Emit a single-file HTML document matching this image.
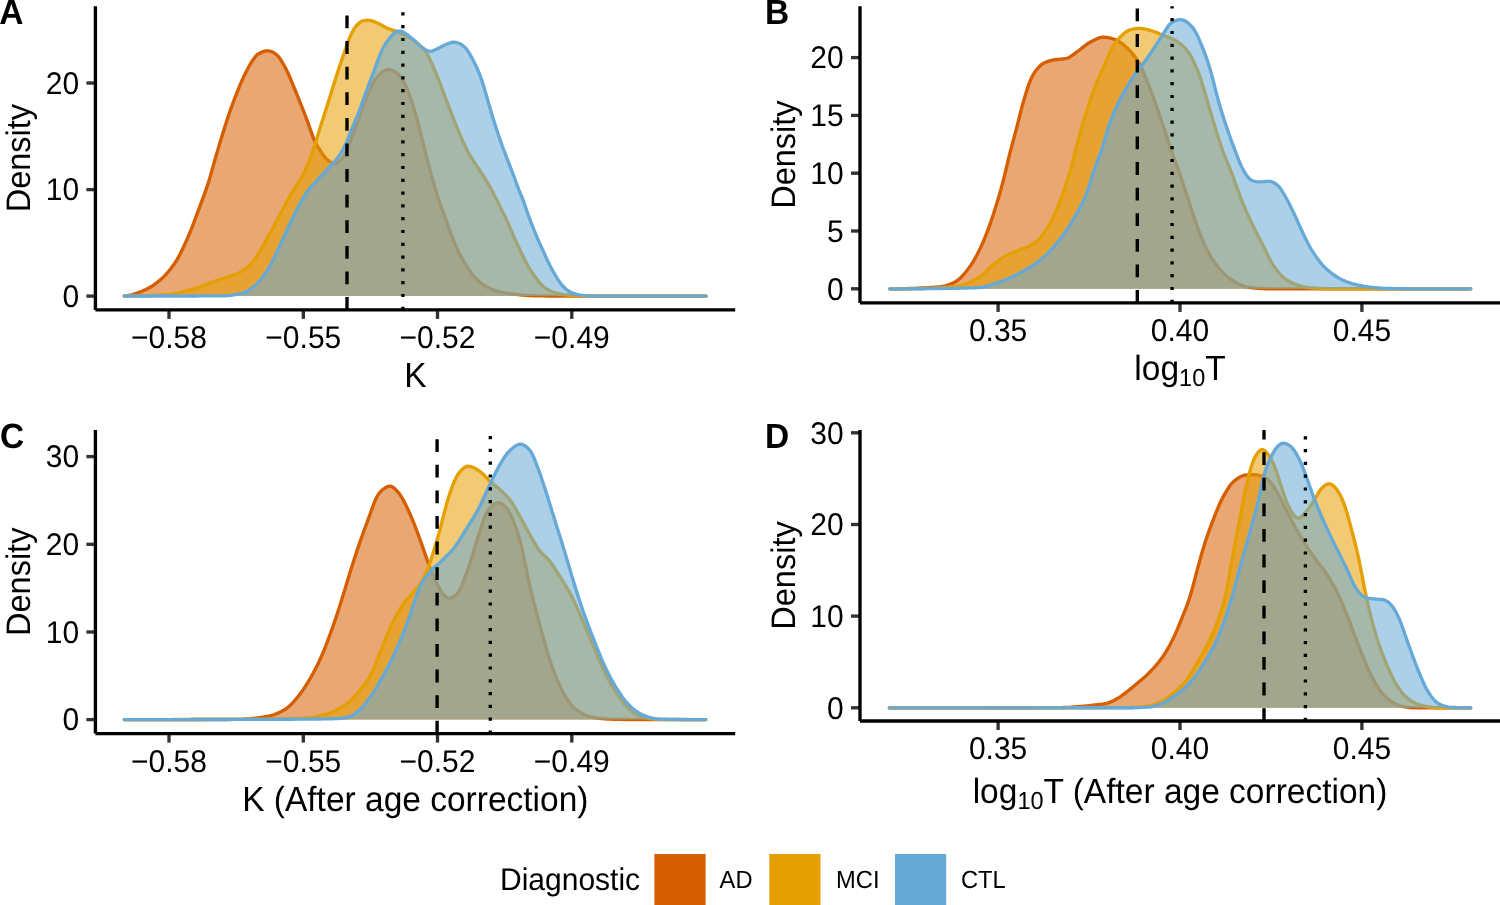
<!DOCTYPE html>
<html><head><meta charset="utf-8"><title>Density plots</title><style>
html,body{margin:0;padding:0;background:#fff;}
body{width:1500px;height:905px;overflow:hidden;}
svg{display:block;will-change:transform;}
text{font-family:"Liberation Sans",sans-serif;fill:#000;text-rendering:geometricPrecision;-webkit-font-smoothing:antialiased;}
.tk{font-size:30px;}
.tt{font-size:33.5px;}
.sub{font-size:23.5px;}
.ty{font-size:32.5px;}
.tag{font-size:33.5px;font-weight:bold;}
.lt{font-size:30px;}
.ll{font-size:23.7px;}
</style></head><body>
<svg width="1500" height="905" viewBox="0 0 1500 905">
<rect width="1500" height="905" fill="#fff"/>
<g>
<path d="M124.3,296.0 125.8,295.9 127.3,295.8 128.8,295.5 130.3,295.2 131.8,294.9 133.3,294.4 134.8,293.9 136.3,293.4 137.8,292.9 139.3,292.3 140.8,291.7 142.3,291.1 143.8,290.4 145.3,289.8 146.8,289.1 148.3,288.3 149.8,287.5 151.3,286.5 152.8,285.6 154.3,284.5 155.8,283.4 157.3,282.3 158.8,281.1 160.3,279.9 161.8,278.5 163.3,277.1 164.8,275.6 166.3,274.0 167.8,272.3 169.3,270.5 170.8,268.6 172.3,266.6 173.8,264.5 175.3,262.3 176.8,259.9 178.3,257.3 179.8,254.6 181.3,251.6 182.8,248.5 184.3,245.3 185.8,242.0 187.3,238.7 188.8,235.2 190.3,231.6 191.8,227.8 193.3,224.0 194.8,220.0 196.3,215.9 197.8,211.8 199.3,207.8 200.8,203.8 202.3,199.8 203.8,195.8 205.3,191.7 206.8,187.4 208.3,182.9 209.8,178.0 211.3,172.8 212.8,167.4 214.3,162.0 215.8,156.8 217.3,151.7 218.8,146.6 220.3,141.6 221.8,136.7 223.3,131.7 224.8,126.9 226.3,122.2 227.8,117.6 229.3,113.2 230.8,108.9 232.3,104.8 233.8,100.8 235.3,96.9 236.8,93.1 238.3,89.3 239.8,85.7 241.3,82.2 242.8,78.7 244.3,75.5 245.8,72.4 247.3,69.5 248.8,66.7 250.3,64.2 251.8,61.7 253.3,59.4 254.8,57.4 256.3,55.6 257.8,54.3 259.3,53.4 260.8,52.6 262.3,51.9 263.8,51.4 265.3,51.0 266.8,50.8 268.3,50.9 269.8,51.2 271.3,51.6 272.8,52.3 274.3,53.1 275.8,54.1 277.3,55.3 278.8,57.0 280.3,59.1 281.8,61.5 283.3,64.0 284.8,66.7 286.3,69.6 287.8,72.7 289.3,76.0 290.8,79.5 292.3,83.1 293.8,86.8 295.3,90.5 296.8,94.2 298.3,97.9 299.8,101.6 301.3,105.4 302.8,109.1 304.3,113.0 305.8,116.9 307.3,120.9 308.8,125.1 310.3,129.4 311.8,133.7 313.3,137.7 314.8,141.2 316.3,144.2 317.8,146.7 319.3,149.0 320.8,151.3 322.3,153.6 323.8,155.8 325.3,157.7 326.8,159.3 328.3,160.5 329.8,161.5 331.3,162.4 332.8,163.0 334.3,163.2 335.8,163.2 337.3,162.6 338.8,161.8 340.3,160.5 341.8,159.0 343.3,157.1 344.8,154.6 346.3,151.3 347.8,147.6 349.3,143.7 350.8,139.8 352.3,135.9 353.8,131.9 355.3,127.9 356.8,123.8 358.3,119.7 359.8,115.6 361.3,111.5 362.8,107.3 364.3,103.2 365.8,99.3 367.3,95.6 368.8,92.1 370.3,88.9 371.8,85.7 373.3,82.9 374.8,80.3 376.3,78.1 377.8,76.3 379.3,74.8 380.8,73.4 382.3,72.2 383.8,71.1 385.3,70.3 386.8,69.7 388.3,69.5 389.8,69.6 391.3,70.0 392.8,70.6 394.3,71.3 395.8,72.3 397.3,73.4 398.8,74.9 400.3,76.7 401.8,78.8 403.3,81.2 404.8,83.9 406.3,87.0 407.8,90.5 409.3,94.5 410.8,98.8 412.3,103.3 413.8,108.1 415.3,113.3 416.8,118.7 418.3,124.4 419.8,130.2 421.3,136.0 422.8,141.9 424.3,147.8 425.8,153.7 427.3,159.6 428.8,165.4 430.3,171.1 431.8,176.6 433.3,182.0 434.8,187.1 436.3,192.1 437.8,196.8 439.3,201.4 440.8,205.8 442.3,210.0 443.8,214.1 445.3,218.2 446.8,222.3 448.3,226.4 449.8,230.7 451.3,234.8 452.8,238.8 454.3,242.6 455.8,246.0 457.3,249.2 458.8,252.3 460.3,255.2 461.8,257.9 463.3,260.6 464.8,263.1 466.3,265.6 467.8,268.0 469.3,270.3 470.8,272.4 472.3,274.4 473.8,276.1 475.3,277.8 476.8,279.3 478.3,280.8 479.8,282.1 481.3,283.4 482.8,284.5 484.3,285.5 485.8,286.4 487.3,287.2 488.8,288.0 490.3,288.6 491.8,289.3 493.3,289.8 494.8,290.4 496.3,290.9 497.8,291.3 499.3,291.7 500.8,292.0 502.3,292.4 503.8,292.6 505.3,292.9 506.8,293.1 508.3,293.4 509.8,293.6 511.3,293.8 512.8,294.0 514.3,294.2 515.8,294.3 517.3,294.5 518.8,294.7 520.3,294.9 521.8,295.0 523.3,295.2 524.8,295.3 526.3,295.4 527.8,295.5 529.3,295.6 530.8,295.6 532.3,295.7 533.8,295.7 535.3,295.7 536.8,295.8 538.3,295.8 539.8,295.9 541.3,295.9 542.8,295.9 544.3,295.9 545.8,296.0 547.3,296.0 548.8,296.0 550.3,296.0 551.8,296.1 553.3,296.1 554.8,296.1 706.0,296.1L706.1,296.1L124.3,296.1Z" fill="#D55E00" fill-opacity="0.55" stroke="none"/>
<path d="M124.3,296.0 125.8,295.9 127.3,295.8 128.8,295.5 130.3,295.2 131.8,294.9 133.3,294.4 134.8,293.9 136.3,293.4 137.8,292.9 139.3,292.3 140.8,291.7 142.3,291.1 143.8,290.4 145.3,289.8 146.8,289.1 148.3,288.3 149.8,287.5 151.3,286.5 152.8,285.6 154.3,284.5 155.8,283.4 157.3,282.3 158.8,281.1 160.3,279.9 161.8,278.5 163.3,277.1 164.8,275.6 166.3,274.0 167.8,272.3 169.3,270.5 170.8,268.6 172.3,266.6 173.8,264.5 175.3,262.3 176.8,259.9 178.3,257.3 179.8,254.6 181.3,251.6 182.8,248.5 184.3,245.3 185.8,242.0 187.3,238.7 188.8,235.2 190.3,231.6 191.8,227.8 193.3,224.0 194.8,220.0 196.3,215.9 197.8,211.8 199.3,207.8 200.8,203.8 202.3,199.8 203.8,195.8 205.3,191.7 206.8,187.4 208.3,182.9 209.8,178.0 211.3,172.8 212.8,167.4 214.3,162.0 215.8,156.8 217.3,151.7 218.8,146.6 220.3,141.6 221.8,136.7 223.3,131.7 224.8,126.9 226.3,122.2 227.8,117.6 229.3,113.2 230.8,108.9 232.3,104.8 233.8,100.8 235.3,96.9 236.8,93.1 238.3,89.3 239.8,85.7 241.3,82.2 242.8,78.7 244.3,75.5 245.8,72.4 247.3,69.5 248.8,66.7 250.3,64.2 251.8,61.7 253.3,59.4 254.8,57.4 256.3,55.6 257.8,54.3 259.3,53.4 260.8,52.6 262.3,51.9 263.8,51.4 265.3,51.0 266.8,50.8 268.3,50.9 269.8,51.2 271.3,51.6 272.8,52.3 274.3,53.1 275.8,54.1 277.3,55.3 278.8,57.0 280.3,59.1 281.8,61.5 283.3,64.0 284.8,66.7 286.3,69.6 287.8,72.7 289.3,76.0 290.8,79.5 292.3,83.1 293.8,86.8 295.3,90.5 296.8,94.2 298.3,97.9 299.8,101.6 301.3,105.4 302.8,109.1 304.3,113.0 305.8,116.9 307.3,120.9 308.8,125.1 310.3,129.4 311.8,133.7 313.3,137.7 314.8,141.2 316.3,144.2 317.8,146.7 319.3,149.0 320.8,151.3 322.3,153.6 323.8,155.8 325.3,157.7 326.8,159.3 328.3,160.5 329.8,161.5 331.3,162.4 332.8,163.0 334.3,163.2 335.8,163.2 337.3,162.6 338.8,161.8 340.3,160.5 341.8,159.0 343.3,157.1 344.8,154.6 346.3,151.3 347.8,147.6 349.3,143.7 350.8,139.8 352.3,135.9 353.8,131.9 355.3,127.9 356.8,123.8 358.3,119.7 359.8,115.6 361.3,111.5 362.8,107.3 364.3,103.2 365.8,99.3 367.3,95.6 368.8,92.1 370.3,88.9 371.8,85.7 373.3,82.9 374.8,80.3 376.3,78.1 377.8,76.3 379.3,74.8 380.8,73.4 382.3,72.2 383.8,71.1 385.3,70.3 386.8,69.7 388.3,69.5 389.8,69.6 391.3,70.0 392.8,70.6 394.3,71.3 395.8,72.3 397.3,73.4 398.8,74.9 400.3,76.7 401.8,78.8 403.3,81.2 404.8,83.9 406.3,87.0 407.8,90.5 409.3,94.5 410.8,98.8 412.3,103.3 413.8,108.1 415.3,113.3 416.8,118.7 418.3,124.4 419.8,130.2 421.3,136.0 422.8,141.9 424.3,147.8 425.8,153.7 427.3,159.6 428.8,165.4 430.3,171.1 431.8,176.6 433.3,182.0 434.8,187.1 436.3,192.1 437.8,196.8 439.3,201.4 440.8,205.8 442.3,210.0 443.8,214.1 445.3,218.2 446.8,222.3 448.3,226.4 449.8,230.7 451.3,234.8 452.8,238.8 454.3,242.6 455.8,246.0 457.3,249.2 458.8,252.3 460.3,255.2 461.8,257.9 463.3,260.6 464.8,263.1 466.3,265.6 467.8,268.0 469.3,270.3 470.8,272.4 472.3,274.4 473.8,276.1 475.3,277.8 476.8,279.3 478.3,280.8 479.8,282.1 481.3,283.4 482.8,284.5 484.3,285.5 485.8,286.4 487.3,287.2 488.8,288.0 490.3,288.6 491.8,289.3 493.3,289.8 494.8,290.4 496.3,290.9 497.8,291.3 499.3,291.7 500.8,292.0 502.3,292.4 503.8,292.6 505.3,292.9 506.8,293.1 508.3,293.4 509.8,293.6 511.3,293.8 512.8,294.0 514.3,294.2 515.8,294.3 517.3,294.5 518.8,294.7 520.3,294.9 521.8,295.0 523.3,295.2 524.8,295.3 526.3,295.4 527.8,295.5 529.3,295.6 530.8,295.6 532.3,295.7 533.8,295.7 535.3,295.7 536.8,295.8 538.3,295.8 539.8,295.9 541.3,295.9 542.8,295.9 544.3,295.9 545.8,296.0 547.3,296.0 548.8,296.0 550.3,296.0 551.8,296.1 553.3,296.1 554.8,296.1 706.0,296.1" fill="none" stroke="#D55E00" stroke-width="3.35" stroke-linejoin="round" stroke-linecap="round"/>
<path d="M124.3,296.0 125.8,296.0 127.3,296.0 128.8,296.0 130.3,296.0 131.8,296.0 133.3,295.9 134.8,295.9 136.3,295.9 137.8,295.9 139.3,295.8 140.8,295.8 142.3,295.8 143.8,295.7 145.3,295.7 146.8,295.6 148.3,295.6 149.8,295.5 151.3,295.5 152.8,295.4 154.3,295.4 155.8,295.3 157.3,295.2 158.8,295.2 160.3,295.1 161.8,295.0 163.3,295.0 164.8,294.9 166.3,294.8 167.8,294.7 169.3,294.5 170.8,294.4 172.3,294.1 173.8,293.9 175.3,293.6 176.8,293.3 178.3,293.0 179.8,292.6 181.3,292.3 182.8,291.9 184.3,291.5 185.8,291.1 187.3,290.7 188.8,290.3 190.3,289.9 191.8,289.5 193.3,289.1 194.8,288.6 196.3,288.2 197.8,287.7 199.3,287.1 200.8,286.6 202.3,286.0 203.8,285.5 205.3,284.9 206.8,284.3 208.3,283.7 209.8,283.1 211.3,282.5 212.8,282.0 214.3,281.4 215.8,280.9 217.3,280.3 218.8,279.8 220.3,279.4 221.8,278.9 223.3,278.5 224.8,278.0 226.3,277.6 227.8,277.1 229.3,276.7 230.8,276.2 232.3,275.7 233.8,275.1 235.3,274.5 236.8,273.9 238.3,273.2 239.8,272.4 241.3,271.5 242.8,270.6 244.3,269.7 245.8,268.6 247.3,267.4 248.8,266.2 250.3,264.8 251.8,263.2 253.3,261.4 254.8,259.3 256.3,257.0 257.8,254.6 259.3,252.1 260.8,249.6 262.3,247.0 263.8,244.5 265.3,241.9 266.8,239.3 268.3,236.6 269.8,233.8 271.3,231.0 272.8,228.2 274.3,225.4 275.8,222.6 277.3,219.8 278.8,217.0 280.3,214.2 281.8,211.3 283.3,208.5 284.8,205.6 286.3,202.8 287.8,200.1 289.3,197.3 290.8,194.7 292.3,192.1 293.8,189.6 295.3,187.2 296.8,185.0 298.3,182.7 299.8,180.3 301.3,177.8 302.8,175.1 304.3,172.1 305.8,168.9 307.3,165.5 308.8,161.8 310.3,157.9 311.8,153.9 313.3,149.6 314.8,145.1 316.3,140.2 317.8,135.3 319.3,130.3 320.8,125.5 322.3,120.8 323.8,116.2 325.3,111.6 326.8,106.9 328.3,102.1 329.8,97.3 331.3,92.4 332.8,87.5 334.3,82.7 335.8,77.9 337.3,73.2 338.8,68.6 340.3,64.2 341.8,59.8 343.3,55.5 344.8,51.2 346.3,46.8 347.8,42.5 349.3,38.6 350.8,35.2 352.3,32.0 353.8,29.3 355.3,27.1 356.8,25.2 358.3,23.7 359.8,22.4 361.3,21.5 362.8,20.9 364.3,20.5 365.8,20.3 367.3,20.2 368.8,20.3 370.3,20.5 371.8,20.9 373.3,21.3 374.8,21.8 376.3,22.5 377.8,23.2 379.3,24.0 380.8,24.8 382.3,25.6 383.8,26.4 385.3,27.2 386.8,28.0 388.3,28.7 389.8,29.2 391.3,29.7 392.8,30.1 394.3,30.5 395.8,30.9 397.3,31.6 398.8,32.3 400.3,33.1 401.8,33.9 403.3,34.6 404.8,35.3 406.3,36.0 407.8,36.8 409.3,37.6 410.8,38.4 412.3,39.4 413.8,40.4 415.3,41.5 416.8,42.6 418.3,43.9 419.8,45.3 421.3,46.7 422.8,48.3 424.3,50.1 425.8,52.2 427.3,54.5 428.8,57.1 430.3,60.2 431.8,63.4 433.3,66.9 434.8,70.5 436.3,74.2 437.8,77.8 439.3,81.6 440.8,85.4 442.3,89.3 443.8,93.3 445.3,97.4 446.8,101.4 448.3,105.3 449.8,109.2 451.3,113.1 452.8,117.0 454.3,120.8 455.8,124.6 457.3,128.4 458.8,132.0 460.3,135.5 461.8,138.9 463.3,142.2 464.8,145.4 466.3,148.6 467.8,151.6 469.3,154.4 470.8,157.0 472.3,159.4 473.8,161.7 475.3,163.9 476.8,166.1 478.3,168.3 479.8,170.5 481.3,172.7 482.8,175.1 484.3,177.4 485.8,179.8 487.3,182.2 488.8,184.8 490.3,187.4 491.8,190.2 493.3,193.1 494.8,196.0 496.3,199.0 497.8,202.0 499.3,205.0 500.8,208.0 502.3,211.0 503.8,214.0 505.3,217.2 506.8,220.4 508.3,223.8 509.8,227.3 511.3,230.8 512.8,234.2 514.3,237.6 515.8,240.9 517.3,244.2 518.8,247.4 520.3,250.5 521.8,253.7 523.3,256.8 524.8,259.8 526.3,262.7 527.8,265.5 529.3,268.0 530.8,270.5 532.3,272.8 533.8,275.0 535.3,277.1 536.8,279.1 538.3,281.1 539.8,282.9 541.3,284.6 542.8,286.0 544.3,287.3 545.8,288.3 547.3,289.3 548.8,290.1 550.3,290.9 551.8,291.6 553.3,292.2 554.8,292.6 556.3,293.1 557.8,293.4 559.3,293.8 560.8,294.1 562.3,294.4 563.8,294.6 565.3,294.9 566.8,295.0 568.3,295.2 569.8,295.3 571.3,295.4 572.8,295.5 574.3,295.6 575.8,295.7 577.3,295.7 578.8,295.8 580.3,295.9 581.8,295.9 583.3,296.0 584.8,296.0 586.3,296.1 587.8,296.1 706.0,296.1L706.1,296.1L124.3,296.1Z" fill="#E69F00" fill-opacity="0.55" stroke="none"/>
<path d="M124.3,296.0 125.8,296.0 127.3,296.0 128.8,296.0 130.3,296.0 131.8,296.0 133.3,295.9 134.8,295.9 136.3,295.9 137.8,295.9 139.3,295.8 140.8,295.8 142.3,295.8 143.8,295.7 145.3,295.7 146.8,295.6 148.3,295.6 149.8,295.5 151.3,295.5 152.8,295.4 154.3,295.4 155.8,295.3 157.3,295.2 158.8,295.2 160.3,295.1 161.8,295.0 163.3,295.0 164.8,294.9 166.3,294.8 167.8,294.7 169.3,294.5 170.8,294.4 172.3,294.1 173.8,293.9 175.3,293.6 176.8,293.3 178.3,293.0 179.8,292.6 181.3,292.3 182.8,291.9 184.3,291.5 185.8,291.1 187.3,290.7 188.8,290.3 190.3,289.9 191.8,289.5 193.3,289.1 194.8,288.6 196.3,288.2 197.8,287.7 199.3,287.1 200.8,286.6 202.3,286.0 203.8,285.5 205.3,284.9 206.8,284.3 208.3,283.7 209.8,283.1 211.3,282.5 212.8,282.0 214.3,281.4 215.8,280.9 217.3,280.3 218.8,279.8 220.3,279.4 221.8,278.9 223.3,278.5 224.8,278.0 226.3,277.6 227.8,277.1 229.3,276.7 230.8,276.2 232.3,275.7 233.8,275.1 235.3,274.5 236.8,273.9 238.3,273.2 239.8,272.4 241.3,271.5 242.8,270.6 244.3,269.7 245.8,268.6 247.3,267.4 248.8,266.2 250.3,264.8 251.8,263.2 253.3,261.4 254.8,259.3 256.3,257.0 257.8,254.6 259.3,252.1 260.8,249.6 262.3,247.0 263.8,244.5 265.3,241.9 266.8,239.3 268.3,236.6 269.8,233.8 271.3,231.0 272.8,228.2 274.3,225.4 275.8,222.6 277.3,219.8 278.8,217.0 280.3,214.2 281.8,211.3 283.3,208.5 284.8,205.6 286.3,202.8 287.8,200.1 289.3,197.3 290.8,194.7 292.3,192.1 293.8,189.6 295.3,187.2 296.8,185.0 298.3,182.7 299.8,180.3 301.3,177.8 302.8,175.1 304.3,172.1 305.8,168.9 307.3,165.5 308.8,161.8 310.3,157.9 311.8,153.9 313.3,149.6 314.8,145.1 316.3,140.2 317.8,135.3 319.3,130.3 320.8,125.5 322.3,120.8 323.8,116.2 325.3,111.6 326.8,106.9 328.3,102.1 329.8,97.3 331.3,92.4 332.8,87.5 334.3,82.7 335.8,77.9 337.3,73.2 338.8,68.6 340.3,64.2 341.8,59.8 343.3,55.5 344.8,51.2 346.3,46.8 347.8,42.5 349.3,38.6 350.8,35.2 352.3,32.0 353.8,29.3 355.3,27.1 356.8,25.2 358.3,23.7 359.8,22.4 361.3,21.5 362.8,20.9 364.3,20.5 365.8,20.3 367.3,20.2 368.8,20.3 370.3,20.5 371.8,20.9 373.3,21.3 374.8,21.8 376.3,22.5 377.8,23.2 379.3,24.0 380.8,24.8 382.3,25.6 383.8,26.4 385.3,27.2 386.8,28.0 388.3,28.7 389.8,29.2 391.3,29.7 392.8,30.1 394.3,30.5 395.8,30.9 397.3,31.6 398.8,32.3 400.3,33.1 401.8,33.9 403.3,34.6 404.8,35.3 406.3,36.0 407.8,36.8 409.3,37.6 410.8,38.4 412.3,39.4 413.8,40.4 415.3,41.5 416.8,42.6 418.3,43.9 419.8,45.3 421.3,46.7 422.8,48.3 424.3,50.1 425.8,52.2 427.3,54.5 428.8,57.1 430.3,60.2 431.8,63.4 433.3,66.9 434.8,70.5 436.3,74.2 437.8,77.8 439.3,81.6 440.8,85.4 442.3,89.3 443.8,93.3 445.3,97.4 446.8,101.4 448.3,105.3 449.8,109.2 451.3,113.1 452.8,117.0 454.3,120.8 455.8,124.6 457.3,128.4 458.8,132.0 460.3,135.5 461.8,138.9 463.3,142.2 464.8,145.4 466.3,148.6 467.8,151.6 469.3,154.4 470.8,157.0 472.3,159.4 473.8,161.7 475.3,163.9 476.8,166.1 478.3,168.3 479.8,170.5 481.3,172.7 482.8,175.1 484.3,177.4 485.8,179.8 487.3,182.2 488.8,184.8 490.3,187.4 491.8,190.2 493.3,193.1 494.8,196.0 496.3,199.0 497.8,202.0 499.3,205.0 500.8,208.0 502.3,211.0 503.8,214.0 505.3,217.2 506.8,220.4 508.3,223.8 509.8,227.3 511.3,230.8 512.8,234.2 514.3,237.6 515.8,240.9 517.3,244.2 518.8,247.4 520.3,250.5 521.8,253.7 523.3,256.8 524.8,259.8 526.3,262.7 527.8,265.5 529.3,268.0 530.8,270.5 532.3,272.8 533.8,275.0 535.3,277.1 536.8,279.1 538.3,281.1 539.8,282.9 541.3,284.6 542.8,286.0 544.3,287.3 545.8,288.3 547.3,289.3 548.8,290.1 550.3,290.9 551.8,291.6 553.3,292.2 554.8,292.6 556.3,293.1 557.8,293.4 559.3,293.8 560.8,294.1 562.3,294.4 563.8,294.6 565.3,294.9 566.8,295.0 568.3,295.2 569.8,295.3 571.3,295.4 572.8,295.5 574.3,295.6 575.8,295.7 577.3,295.7 578.8,295.8 580.3,295.9 581.8,295.9 583.3,296.0 584.8,296.0 586.3,296.1 587.8,296.1 706.0,296.1" fill="none" stroke="#E69F00" stroke-width="3.35" stroke-linejoin="round" stroke-linecap="round"/>
<path d="M124.3,296.0 125.8,296.0 127.3,296.0 128.8,296.0 130.3,296.0 131.8,296.0 133.3,296.0 134.8,296.0 136.3,296.0 137.8,296.0 139.3,296.0 140.8,296.0 142.3,296.0 143.8,296.0 145.3,296.0 146.8,296.0 148.3,296.0 149.8,296.0 151.3,296.0 152.8,296.0 154.3,296.0 155.8,296.0 157.3,296.0 158.8,296.0 160.3,296.0 161.8,296.0 163.3,296.0 164.8,296.0 166.3,296.0 167.8,296.0 169.3,296.0 170.8,296.0 172.3,296.0 173.8,296.0 175.3,296.0 176.8,296.0 178.3,296.0 179.8,296.0 181.3,296.0 182.8,296.0 184.3,296.0 185.8,296.0 187.3,296.0 188.8,296.0 190.3,296.0 191.8,296.0 193.3,296.0 194.8,296.0 196.3,296.0 197.8,296.0 199.3,295.9 200.8,295.9 202.3,295.9 203.8,295.9 205.3,295.9 206.8,295.9 208.3,295.9 209.8,295.9 211.3,295.9 212.8,295.9 214.3,295.9 215.8,295.9 217.3,295.9 218.8,295.9 220.3,295.9 221.8,295.9 223.3,295.9 224.8,295.8 226.3,295.7 227.8,295.6 229.3,295.5 230.8,295.3 232.3,295.1 233.8,294.9 235.3,294.7 236.8,294.4 238.3,294.2 239.8,293.9 241.3,293.6 242.8,293.2 244.3,292.6 245.8,291.9 247.3,291.1 248.8,290.2 250.3,289.2 251.8,288.1 253.3,287.0 254.8,285.8 256.3,284.4 257.8,282.9 259.3,281.3 260.8,279.5 262.3,277.5 263.8,275.5 265.3,273.3 266.8,271.1 268.3,268.7 269.8,266.2 271.3,263.5 272.8,260.6 274.3,257.5 275.8,254.4 277.3,251.1 278.8,247.9 280.3,244.7 281.8,241.5 283.3,238.3 284.8,235.0 286.3,231.7 287.8,228.3 289.3,225.0 290.8,221.8 292.3,218.6 293.8,215.5 295.3,212.6 296.8,209.7 298.3,206.8 299.8,204.0 301.3,201.2 302.8,198.6 304.3,196.1 305.8,193.7 307.3,191.6 308.8,189.6 310.3,187.7 311.8,186.0 313.3,184.4 314.8,182.9 316.3,181.3 317.8,179.7 319.3,178.1 320.8,176.5 322.3,174.9 323.8,173.2 325.3,171.6 326.8,169.9 328.3,168.3 329.8,166.6 331.3,165.0 332.8,163.4 334.3,161.8 335.8,160.1 337.3,158.3 338.8,156.3 340.3,154.1 341.8,151.7 343.3,149.1 344.8,146.1 346.3,142.8 347.8,139.2 349.3,135.3 350.8,131.5 352.3,127.9 353.8,124.3 355.3,120.7 356.8,117.1 358.3,113.4 359.8,109.5 361.3,105.4 362.8,101.2 364.3,96.9 365.8,92.8 367.3,88.7 368.8,84.7 370.3,80.8 371.8,76.9 373.3,73.0 374.8,69.0 376.3,64.8 377.8,60.6 379.3,56.6 380.8,52.9 382.3,49.7 383.8,46.8 385.3,44.3 386.8,42.0 388.3,39.9 389.8,37.9 391.3,36.1 392.8,34.4 394.3,33.0 395.8,32.0 397.3,31.5 398.8,31.2 400.3,31.2 401.8,31.5 403.3,32.1 404.8,32.9 406.3,34.0 407.8,35.1 409.3,36.3 410.8,37.5 412.3,38.7 413.8,40.0 415.3,41.4 416.8,42.9 418.3,44.3 419.8,45.7 421.3,46.9 422.8,48.0 424.3,49.0 425.8,49.9 427.3,50.7 428.8,51.2 430.3,51.3 431.8,51.1 433.3,50.6 434.8,50.0 436.3,49.3 437.8,48.5 439.3,47.7 440.8,47.0 442.3,46.2 443.8,45.5 445.3,44.8 446.8,44.1 448.3,43.5 449.8,43.0 451.3,42.5 452.8,42.2 454.3,42.2 455.8,42.3 457.3,42.7 458.8,43.3 460.3,44.0 461.8,44.9 463.3,46.0 464.8,47.2 466.3,48.8 467.8,50.9 469.3,53.3 470.8,55.9 472.3,58.6 473.8,61.5 475.3,64.5 476.8,67.7 478.3,71.1 479.8,74.8 481.3,78.9 482.8,83.4 484.3,88.3 485.8,93.5 487.3,98.7 488.8,103.9 490.3,109.0 491.8,114.0 493.3,118.9 494.8,123.8 496.3,128.5 497.8,133.1 499.3,137.6 500.8,141.9 502.3,146.0 503.8,150.0 505.3,154.0 506.8,157.9 508.3,161.8 509.8,165.7 511.3,169.6 512.8,173.5 514.3,177.5 515.8,181.6 517.3,185.6 518.8,189.6 520.3,193.3 521.8,196.9 523.3,200.7 524.8,204.8 526.3,209.3 527.8,213.7 529.3,217.9 530.8,221.8 532.3,225.7 533.8,229.5 535.3,233.2 536.8,236.8 538.3,240.2 539.8,243.6 541.3,246.9 542.8,250.2 544.3,253.5 545.8,256.9 547.3,260.2 548.8,263.3 550.3,266.3 551.8,269.1 553.3,271.8 554.8,274.4 556.3,276.9 557.8,279.3 559.3,281.6 560.8,283.6 562.3,285.4 563.8,287.0 565.3,288.5 566.8,289.8 568.3,290.8 569.8,291.7 571.3,292.4 572.8,293.1 574.3,293.6 575.8,294.1 577.3,294.5 578.8,294.8 580.3,295.1 581.8,295.3 583.3,295.4 584.8,295.6 586.3,295.7 587.8,295.9 589.3,295.9 590.8,296.0 592.3,296.1 593.8,296.1 706.0,296.1L706.1,296.1L124.3,296.1Z" fill="#67A9D6" fill-opacity="0.55" stroke="none"/>
<path d="M124.3,296.0 125.8,296.0 127.3,296.0 128.8,296.0 130.3,296.0 131.8,296.0 133.3,296.0 134.8,296.0 136.3,296.0 137.8,296.0 139.3,296.0 140.8,296.0 142.3,296.0 143.8,296.0 145.3,296.0 146.8,296.0 148.3,296.0 149.8,296.0 151.3,296.0 152.8,296.0 154.3,296.0 155.8,296.0 157.3,296.0 158.8,296.0 160.3,296.0 161.8,296.0 163.3,296.0 164.8,296.0 166.3,296.0 167.8,296.0 169.3,296.0 170.8,296.0 172.3,296.0 173.8,296.0 175.3,296.0 176.8,296.0 178.3,296.0 179.8,296.0 181.3,296.0 182.8,296.0 184.3,296.0 185.8,296.0 187.3,296.0 188.8,296.0 190.3,296.0 191.8,296.0 193.3,296.0 194.8,296.0 196.3,296.0 197.8,296.0 199.3,295.9 200.8,295.9 202.3,295.9 203.8,295.9 205.3,295.9 206.8,295.9 208.3,295.9 209.8,295.9 211.3,295.9 212.8,295.9 214.3,295.9 215.8,295.9 217.3,295.9 218.8,295.9 220.3,295.9 221.8,295.9 223.3,295.9 224.8,295.8 226.3,295.7 227.8,295.6 229.3,295.5 230.8,295.3 232.3,295.1 233.8,294.9 235.3,294.7 236.8,294.4 238.3,294.2 239.8,293.9 241.3,293.6 242.8,293.2 244.3,292.6 245.8,291.9 247.3,291.1 248.8,290.2 250.3,289.2 251.8,288.1 253.3,287.0 254.8,285.8 256.3,284.4 257.8,282.9 259.3,281.3 260.8,279.5 262.3,277.5 263.8,275.5 265.3,273.3 266.8,271.1 268.3,268.7 269.8,266.2 271.3,263.5 272.8,260.6 274.3,257.5 275.8,254.4 277.3,251.1 278.8,247.9 280.3,244.7 281.8,241.5 283.3,238.3 284.8,235.0 286.3,231.7 287.8,228.3 289.3,225.0 290.8,221.8 292.3,218.6 293.8,215.5 295.3,212.6 296.8,209.7 298.3,206.8 299.8,204.0 301.3,201.2 302.8,198.6 304.3,196.1 305.8,193.7 307.3,191.6 308.8,189.6 310.3,187.7 311.8,186.0 313.3,184.4 314.8,182.9 316.3,181.3 317.8,179.7 319.3,178.1 320.8,176.5 322.3,174.9 323.8,173.2 325.3,171.6 326.8,169.9 328.3,168.3 329.8,166.6 331.3,165.0 332.8,163.4 334.3,161.8 335.8,160.1 337.3,158.3 338.8,156.3 340.3,154.1 341.8,151.7 343.3,149.1 344.8,146.1 346.3,142.8 347.8,139.2 349.3,135.3 350.8,131.5 352.3,127.9 353.8,124.3 355.3,120.7 356.8,117.1 358.3,113.4 359.8,109.5 361.3,105.4 362.8,101.2 364.3,96.9 365.8,92.8 367.3,88.7 368.8,84.7 370.3,80.8 371.8,76.9 373.3,73.0 374.8,69.0 376.3,64.8 377.8,60.6 379.3,56.6 380.8,52.9 382.3,49.7 383.8,46.8 385.3,44.3 386.8,42.0 388.3,39.9 389.8,37.9 391.3,36.1 392.8,34.4 394.3,33.0 395.8,32.0 397.3,31.5 398.8,31.2 400.3,31.2 401.8,31.5 403.3,32.1 404.8,32.9 406.3,34.0 407.8,35.1 409.3,36.3 410.8,37.5 412.3,38.7 413.8,40.0 415.3,41.4 416.8,42.9 418.3,44.3 419.8,45.7 421.3,46.9 422.8,48.0 424.3,49.0 425.8,49.9 427.3,50.7 428.8,51.2 430.3,51.3 431.8,51.1 433.3,50.6 434.8,50.0 436.3,49.3 437.8,48.5 439.3,47.7 440.8,47.0 442.3,46.2 443.8,45.5 445.3,44.8 446.8,44.1 448.3,43.5 449.8,43.0 451.3,42.5 452.8,42.2 454.3,42.2 455.8,42.3 457.3,42.7 458.8,43.3 460.3,44.0 461.8,44.9 463.3,46.0 464.8,47.2 466.3,48.8 467.8,50.9 469.3,53.3 470.8,55.9 472.3,58.6 473.8,61.5 475.3,64.5 476.8,67.7 478.3,71.1 479.8,74.8 481.3,78.9 482.8,83.4 484.3,88.3 485.8,93.5 487.3,98.7 488.8,103.9 490.3,109.0 491.8,114.0 493.3,118.9 494.8,123.8 496.3,128.5 497.8,133.1 499.3,137.6 500.8,141.9 502.3,146.0 503.8,150.0 505.3,154.0 506.8,157.9 508.3,161.8 509.8,165.7 511.3,169.6 512.8,173.5 514.3,177.5 515.8,181.6 517.3,185.6 518.8,189.6 520.3,193.3 521.8,196.9 523.3,200.7 524.8,204.8 526.3,209.3 527.8,213.7 529.3,217.9 530.8,221.8 532.3,225.7 533.8,229.5 535.3,233.2 536.8,236.8 538.3,240.2 539.8,243.6 541.3,246.9 542.8,250.2 544.3,253.5 545.8,256.9 547.3,260.2 548.8,263.3 550.3,266.3 551.8,269.1 553.3,271.8 554.8,274.4 556.3,276.9 557.8,279.3 559.3,281.6 560.8,283.6 562.3,285.4 563.8,287.0 565.3,288.5 566.8,289.8 568.3,290.8 569.8,291.7 571.3,292.4 572.8,293.1 574.3,293.6 575.8,294.1 577.3,294.5 578.8,294.8 580.3,295.1 581.8,295.3 583.3,295.4 584.8,295.6 586.3,295.7 587.8,295.9 589.3,295.9 590.8,296.0 592.3,296.1 593.8,296.1 706.0,296.1" fill="none" stroke="#67A9D6" stroke-width="3.35" stroke-linejoin="round" stroke-linecap="round"/>
<line x1="347.0" y1="309.9" x2="347.0" y2="6.3" stroke="#000" stroke-width="3.35" stroke-dasharray="12.8 12.8"/>
<line x1="402.9" y1="309.9" x2="402.9" y2="6.3" stroke="#000" stroke-width="3.35" stroke-dasharray="3.2 9.6"/>
<line x1="86.4" y1="296.1" x2="95.4" y2="296.1" stroke="#333" stroke-width="3.35"/>
<text transform="translate(79.10,306.85) scale(1,1.045)" text-anchor="end" class="tk">0</text>
<line x1="86.4" y1="189.6" x2="95.4" y2="189.6" stroke="#333" stroke-width="3.35"/>
<text transform="translate(79.10,200.30) scale(1,1.045)" text-anchor="end" class="tk">10</text>
<line x1="86.4" y1="83.0" x2="95.4" y2="83.0" stroke="#333" stroke-width="3.35"/>
<text transform="translate(79.10,93.75) scale(1,1.045)" text-anchor="end" class="tk">20</text>
<line x1="169.0" y1="309.9" x2="169.0" y2="318.9" stroke="#333" stroke-width="3.35"/>
<text transform="translate(169.00,348.30) scale(1,1.045)" text-anchor="middle" class="tk">−0.58</text>
<line x1="303.3" y1="309.9" x2="303.3" y2="318.9" stroke="#333" stroke-width="3.35"/>
<text transform="translate(303.30,348.30) scale(1,1.045)" text-anchor="middle" class="tk">−0.55</text>
<line x1="437.5" y1="309.9" x2="437.5" y2="318.9" stroke="#333" stroke-width="3.35"/>
<text transform="translate(437.50,348.30) scale(1,1.045)" text-anchor="middle" class="tk">−0.52</text>
<line x1="571.8" y1="309.9" x2="571.8" y2="318.9" stroke="#333" stroke-width="3.35"/>
<text transform="translate(571.80,348.30) scale(1,1.045)" text-anchor="middle" class="tk">−0.49</text>
<line x1="95.4" y1="6.3" x2="95.4" y2="309.9" stroke="#000" stroke-width="3.35"/>
<line x1="95.4" y1="309.9" x2="735.2" y2="309.9" stroke="#000" stroke-width="3.35"/>
<text transform="translate(30.00,158.10) rotate(-90) scale(1,1.045)" text-anchor="middle" class="ty">Density</text>
</g>
<g>
<path d="M889.9,288.8 894.4,288.8 895.9,288.8 897.4,288.8 898.9,288.7 900.4,288.7 901.9,288.7 903.4,288.7 904.9,288.6 906.4,288.6 907.9,288.5 909.4,288.5 910.9,288.5 912.4,288.4 913.9,288.4 915.4,288.3 916.9,288.2 918.4,288.2 919.9,288.1 921.4,288.0 922.9,287.9 924.4,287.9 925.9,287.8 927.4,287.7 928.9,287.6 930.4,287.5 931.9,287.4 933.4,287.3 934.9,287.2 936.4,287.1 937.9,287.0 939.4,286.8 940.9,286.7 942.4,286.4 943.9,286.2 945.4,285.8 946.9,285.4 948.4,284.9 949.9,284.3 951.4,283.7 952.9,283.1 954.4,282.3 955.9,281.5 957.4,280.5 958.9,279.3 960.4,278.0 961.9,276.4 963.4,274.8 964.9,273.0 966.4,271.2 967.9,269.3 969.4,267.3 970.9,265.2 972.4,262.9 973.9,260.4 975.4,257.7 976.9,255.0 978.4,252.1 979.9,249.1 981.4,245.9 982.9,242.5 984.4,238.9 985.9,235.2 987.4,231.3 988.9,227.3 990.4,223.2 991.9,218.8 993.4,214.2 994.9,209.5 996.4,204.7 997.9,199.8 999.4,194.7 1000.9,189.4 1002.4,183.9 1003.9,178.1 1005.4,172.0 1006.9,165.6 1008.4,159.2 1009.9,153.1 1011.4,147.3 1012.9,141.7 1014.4,136.2 1015.9,130.6 1017.4,124.8 1018.9,118.8 1020.4,112.9 1021.9,107.1 1023.4,101.7 1024.9,96.6 1026.4,91.7 1027.9,87.1 1029.4,82.9 1030.9,79.2 1032.4,76.1 1033.9,73.5 1035.4,71.3 1036.9,69.3 1038.4,67.6 1039.9,66.0 1041.4,64.7 1042.9,63.7 1044.4,62.8 1045.9,62.2 1047.4,61.6 1048.9,61.1 1050.4,60.7 1051.9,60.3 1053.4,60.0 1054.9,59.7 1056.4,59.5 1057.9,59.4 1059.4,59.3 1060.9,59.1 1062.4,59.0 1063.9,58.9 1065.4,58.6 1066.9,58.3 1068.4,57.7 1069.9,56.9 1071.4,55.9 1072.9,54.9 1074.4,53.8 1075.9,52.7 1077.4,51.6 1078.9,50.5 1080.4,49.3 1081.9,48.1 1083.4,46.9 1084.9,45.7 1086.4,44.5 1087.9,43.5 1089.4,42.6 1090.9,41.7 1092.4,40.9 1093.9,40.2 1095.4,39.5 1096.9,38.8 1098.4,38.2 1099.9,37.7 1101.4,37.4 1102.9,37.2 1104.4,37.2 1105.9,37.3 1107.4,37.5 1108.9,37.8 1110.4,38.1 1111.9,38.5 1113.4,39.0 1114.9,39.5 1116.4,40.1 1117.9,40.8 1119.4,41.8 1120.9,42.8 1122.4,43.9 1123.9,45.2 1125.4,46.5 1126.9,47.8 1128.4,49.2 1129.9,50.7 1131.4,52.3 1132.9,54.1 1134.4,56.0 1135.9,58.0 1137.4,60.3 1138.9,62.8 1140.4,65.7 1141.9,68.8 1143.4,72.2 1144.9,75.8 1146.4,79.5 1147.9,83.3 1149.4,87.1 1150.9,91.0 1152.4,95.0 1153.9,99.0 1155.4,103.2 1156.9,107.5 1158.4,111.8 1159.9,116.1 1161.4,120.5 1162.9,125.0 1164.4,129.5 1165.9,134.1 1167.4,138.7 1168.9,143.2 1170.4,147.7 1171.9,152.1 1173.4,156.4 1174.9,160.5 1176.4,164.6 1177.9,168.8 1179.4,173.0 1180.9,177.3 1182.4,181.7 1183.9,186.2 1185.4,190.7 1186.9,195.3 1188.4,199.8 1189.9,204.5 1191.4,209.2 1192.9,213.8 1194.4,218.4 1195.9,222.8 1197.4,227.0 1198.9,231.0 1200.4,234.9 1201.9,238.6 1203.4,242.2 1204.9,245.5 1206.4,248.7 1207.9,251.6 1209.4,254.4 1210.9,256.9 1212.4,259.2 1213.9,261.4 1215.4,263.5 1216.9,265.5 1218.4,267.5 1219.9,269.3 1221.4,271.1 1222.9,272.7 1224.4,274.2 1225.9,275.6 1227.4,276.8 1228.9,277.9 1230.4,278.9 1231.9,279.9 1233.4,280.9 1234.9,281.8 1236.4,282.7 1237.9,283.5 1239.4,284.3 1240.9,285.0 1242.4,285.6 1243.9,286.2 1245.4,286.7 1246.9,287.0 1248.4,287.3 1249.9,287.5 1251.4,287.7 1252.9,287.9 1254.4,288.0 1255.9,288.1 1257.4,288.3 1258.9,288.4 1260.4,288.5 1261.9,288.6 1263.4,288.6 1264.9,288.7 1266.4,288.7 1267.9,288.8 1269.4,288.8 1470.7,288.8L1470.7,288.8L889.9,288.8Z" fill="#D55E00" fill-opacity="0.55" stroke="none"/>
<path d="M889.9,288.8 894.4,288.8 895.9,288.8 897.4,288.8 898.9,288.7 900.4,288.7 901.9,288.7 903.4,288.7 904.9,288.6 906.4,288.6 907.9,288.5 909.4,288.5 910.9,288.5 912.4,288.4 913.9,288.4 915.4,288.3 916.9,288.2 918.4,288.2 919.9,288.1 921.4,288.0 922.9,287.9 924.4,287.9 925.9,287.8 927.4,287.7 928.9,287.6 930.4,287.5 931.9,287.4 933.4,287.3 934.9,287.2 936.4,287.1 937.9,287.0 939.4,286.8 940.9,286.7 942.4,286.4 943.9,286.2 945.4,285.8 946.9,285.4 948.4,284.9 949.9,284.3 951.4,283.7 952.9,283.1 954.4,282.3 955.9,281.5 957.4,280.5 958.9,279.3 960.4,278.0 961.9,276.4 963.4,274.8 964.9,273.0 966.4,271.2 967.9,269.3 969.4,267.3 970.9,265.2 972.4,262.9 973.9,260.4 975.4,257.7 976.9,255.0 978.4,252.1 979.9,249.1 981.4,245.9 982.9,242.5 984.4,238.9 985.9,235.2 987.4,231.3 988.9,227.3 990.4,223.2 991.9,218.8 993.4,214.2 994.9,209.5 996.4,204.7 997.9,199.8 999.4,194.7 1000.9,189.4 1002.4,183.9 1003.9,178.1 1005.4,172.0 1006.9,165.6 1008.4,159.2 1009.9,153.1 1011.4,147.3 1012.9,141.7 1014.4,136.2 1015.9,130.6 1017.4,124.8 1018.9,118.8 1020.4,112.9 1021.9,107.1 1023.4,101.7 1024.9,96.6 1026.4,91.7 1027.9,87.1 1029.4,82.9 1030.9,79.2 1032.4,76.1 1033.9,73.5 1035.4,71.3 1036.9,69.3 1038.4,67.6 1039.9,66.0 1041.4,64.7 1042.9,63.7 1044.4,62.8 1045.9,62.2 1047.4,61.6 1048.9,61.1 1050.4,60.7 1051.9,60.3 1053.4,60.0 1054.9,59.7 1056.4,59.5 1057.9,59.4 1059.4,59.3 1060.9,59.1 1062.4,59.0 1063.9,58.9 1065.4,58.6 1066.9,58.3 1068.4,57.7 1069.9,56.9 1071.4,55.9 1072.9,54.9 1074.4,53.8 1075.9,52.7 1077.4,51.6 1078.9,50.5 1080.4,49.3 1081.9,48.1 1083.4,46.9 1084.9,45.7 1086.4,44.5 1087.9,43.5 1089.4,42.6 1090.9,41.7 1092.4,40.9 1093.9,40.2 1095.4,39.5 1096.9,38.8 1098.4,38.2 1099.9,37.7 1101.4,37.4 1102.9,37.2 1104.4,37.2 1105.9,37.3 1107.4,37.5 1108.9,37.8 1110.4,38.1 1111.9,38.5 1113.4,39.0 1114.9,39.5 1116.4,40.1 1117.9,40.8 1119.4,41.8 1120.9,42.8 1122.4,43.9 1123.9,45.2 1125.4,46.5 1126.9,47.8 1128.4,49.2 1129.9,50.7 1131.4,52.3 1132.9,54.1 1134.4,56.0 1135.9,58.0 1137.4,60.3 1138.9,62.8 1140.4,65.7 1141.9,68.8 1143.4,72.2 1144.9,75.8 1146.4,79.5 1147.9,83.3 1149.4,87.1 1150.9,91.0 1152.4,95.0 1153.9,99.0 1155.4,103.2 1156.9,107.5 1158.4,111.8 1159.9,116.1 1161.4,120.5 1162.9,125.0 1164.4,129.5 1165.9,134.1 1167.4,138.7 1168.9,143.2 1170.4,147.7 1171.9,152.1 1173.4,156.4 1174.9,160.5 1176.4,164.6 1177.9,168.8 1179.4,173.0 1180.9,177.3 1182.4,181.7 1183.9,186.2 1185.4,190.7 1186.9,195.3 1188.4,199.8 1189.9,204.5 1191.4,209.2 1192.9,213.8 1194.4,218.4 1195.9,222.8 1197.4,227.0 1198.9,231.0 1200.4,234.9 1201.9,238.6 1203.4,242.2 1204.9,245.5 1206.4,248.7 1207.9,251.6 1209.4,254.4 1210.9,256.9 1212.4,259.2 1213.9,261.4 1215.4,263.5 1216.9,265.5 1218.4,267.5 1219.9,269.3 1221.4,271.1 1222.9,272.7 1224.4,274.2 1225.9,275.6 1227.4,276.8 1228.9,277.9 1230.4,278.9 1231.9,279.9 1233.4,280.9 1234.9,281.8 1236.4,282.7 1237.9,283.5 1239.4,284.3 1240.9,285.0 1242.4,285.6 1243.9,286.2 1245.4,286.7 1246.9,287.0 1248.4,287.3 1249.9,287.5 1251.4,287.7 1252.9,287.9 1254.4,288.0 1255.9,288.1 1257.4,288.3 1258.9,288.4 1260.4,288.5 1261.9,288.6 1263.4,288.6 1264.9,288.7 1266.4,288.7 1267.9,288.8 1269.4,288.8 1470.7,288.8" fill="none" stroke="#D55E00" stroke-width="3.35" stroke-linejoin="round" stroke-linecap="round"/>
<path d="M889.9,288.8 895.9,288.8 897.4,288.8 898.9,288.8 900.4,288.8 901.9,288.7 903.4,288.7 904.9,288.7 906.4,288.7 907.9,288.7 909.4,288.7 910.9,288.6 912.4,288.6 913.9,288.6 915.4,288.6 916.9,288.6 918.4,288.5 919.9,288.5 921.4,288.5 922.9,288.4 924.4,288.4 925.9,288.4 927.4,288.4 928.9,288.3 930.4,288.3 931.9,288.2 933.4,288.2 934.9,288.1 936.4,288.1 937.9,288.0 939.4,287.9 940.9,287.8 942.4,287.7 943.9,287.6 945.4,287.4 946.9,287.3 948.4,287.2 949.9,287.0 951.4,286.8 952.9,286.7 954.4,286.5 955.9,286.3 957.4,286.1 958.9,285.9 960.4,285.6 961.9,285.2 963.4,284.8 964.9,284.4 966.4,283.8 967.9,283.2 969.4,282.6 970.9,281.9 972.4,281.1 973.9,280.4 975.4,279.6 976.9,278.8 978.4,277.8 979.9,276.8 981.4,275.6 982.9,274.3 984.4,272.9 985.9,271.4 987.4,270.0 988.9,268.5 990.4,267.1 991.9,265.8 993.4,264.6 994.9,263.4 996.4,262.2 997.9,261.0 999.4,259.9 1000.9,258.8 1002.4,257.8 1003.9,256.9 1005.4,256.0 1006.9,255.2 1008.4,254.5 1009.9,253.8 1011.4,253.2 1012.9,252.6 1014.4,252.0 1015.9,251.4 1017.4,250.8 1018.9,250.2 1020.4,249.6 1021.9,249.0 1023.4,248.4 1024.9,247.9 1026.4,247.3 1027.9,246.7 1029.4,246.0 1030.9,245.3 1032.4,244.4 1033.9,243.5 1035.4,242.4 1036.9,241.1 1038.4,239.7 1039.9,238.0 1041.4,236.3 1042.9,234.4 1044.4,232.4 1045.9,230.3 1047.4,228.0 1048.9,225.5 1050.4,222.8 1051.9,219.9 1053.4,216.9 1054.9,213.7 1056.4,210.3 1057.9,206.7 1059.4,202.9 1060.9,198.9 1062.4,194.8 1063.9,190.6 1065.4,186.2 1066.9,181.7 1068.4,177.0 1069.9,172.0 1071.4,166.7 1072.9,161.2 1074.4,155.5 1075.9,149.6 1077.4,143.5 1078.9,137.5 1080.4,131.8 1081.9,126.5 1083.4,121.6 1084.9,117.0 1086.4,112.4 1087.9,107.7 1089.4,103.0 1090.9,98.3 1092.4,93.8 1093.9,89.6 1095.4,85.6 1096.9,82.0 1098.4,78.6 1099.9,75.3 1101.4,72.1 1102.9,68.8 1104.4,65.4 1105.9,61.8 1107.4,58.1 1108.9,54.6 1110.4,51.4 1111.9,48.5 1113.4,45.9 1114.9,43.5 1116.4,41.4 1117.9,39.5 1119.4,37.8 1120.9,36.3 1122.4,34.9 1123.9,33.5 1125.4,32.4 1126.9,31.4 1128.4,30.6 1129.9,29.9 1131.4,29.5 1132.9,29.1 1134.4,28.8 1135.9,28.6 1137.4,28.4 1138.9,28.4 1140.4,28.4 1141.9,28.5 1143.4,28.8 1144.9,29.0 1146.4,29.4 1147.9,29.7 1149.4,30.1 1150.9,30.6 1152.4,31.0 1153.9,31.5 1155.4,32.0 1156.9,32.6 1158.4,33.3 1159.9,34.0 1161.4,34.6 1162.9,35.3 1164.4,35.8 1165.9,36.4 1167.4,36.9 1168.9,37.5 1170.4,38.1 1171.9,38.7 1173.4,39.4 1174.9,40.2 1176.4,41.1 1177.9,42.0 1179.4,43.1 1180.9,44.3 1182.4,45.6 1183.9,47.0 1185.4,48.5 1186.9,50.2 1188.4,52.2 1189.9,54.4 1191.4,57.0 1192.9,59.9 1194.4,63.1 1195.9,66.5 1197.4,70.1 1198.9,73.9 1200.4,78.1 1201.9,82.8 1203.4,87.7 1204.9,92.8 1206.4,97.9 1207.9,103.0 1209.4,108.1 1210.9,113.2 1212.4,118.3 1213.9,123.3 1215.4,128.3 1216.9,133.1 1218.4,137.9 1219.9,142.5 1221.4,147.0 1222.9,151.3 1224.4,155.3 1225.9,159.0 1227.4,162.6 1228.9,166.2 1230.4,169.8 1231.9,173.7 1233.4,177.7 1234.9,181.8 1236.4,186.1 1237.9,190.3 1239.4,194.4 1240.9,198.4 1242.4,202.1 1243.9,205.7 1245.4,209.2 1246.9,212.6 1248.4,215.9 1249.9,219.2 1251.4,222.4 1252.9,225.5 1254.4,228.6 1255.9,231.7 1257.4,234.6 1258.9,237.5 1260.4,240.3 1261.9,243.2 1263.4,246.1 1264.9,249.1 1266.4,252.3 1267.9,255.5 1269.4,258.6 1270.9,261.4 1272.4,263.9 1273.9,266.2 1275.4,268.3 1276.9,270.4 1278.4,272.3 1279.9,274.0 1281.4,275.7 1282.9,277.1 1284.4,278.4 1285.9,279.4 1287.4,280.3 1288.9,281.2 1290.4,281.9 1291.9,282.7 1293.4,283.3 1294.9,284.0 1296.4,284.6 1297.9,285.1 1299.4,285.6 1300.9,286.1 1302.4,286.5 1303.9,286.8 1305.4,287.1 1306.9,287.3 1308.4,287.5 1309.9,287.7 1311.4,287.8 1312.9,288.0 1314.4,288.1 1315.9,288.2 1317.4,288.3 1318.9,288.4 1320.4,288.5 1321.9,288.6 1323.4,288.7 1324.9,288.7 1326.4,288.7 1327.9,288.8 1329.4,288.8 1470.7,288.8L1470.7,288.8L889.9,288.8Z" fill="#E69F00" fill-opacity="0.55" stroke="none"/>
<path d="M889.9,288.8 895.9,288.8 897.4,288.8 898.9,288.8 900.4,288.8 901.9,288.7 903.4,288.7 904.9,288.7 906.4,288.7 907.9,288.7 909.4,288.7 910.9,288.6 912.4,288.6 913.9,288.6 915.4,288.6 916.9,288.6 918.4,288.5 919.9,288.5 921.4,288.5 922.9,288.4 924.4,288.4 925.9,288.4 927.4,288.4 928.9,288.3 930.4,288.3 931.9,288.2 933.4,288.2 934.9,288.1 936.4,288.1 937.9,288.0 939.4,287.9 940.9,287.8 942.4,287.7 943.9,287.6 945.4,287.4 946.9,287.3 948.4,287.2 949.9,287.0 951.4,286.8 952.9,286.7 954.4,286.5 955.9,286.3 957.4,286.1 958.9,285.9 960.4,285.6 961.9,285.2 963.4,284.8 964.9,284.4 966.4,283.8 967.9,283.2 969.4,282.6 970.9,281.9 972.4,281.1 973.9,280.4 975.4,279.6 976.9,278.8 978.4,277.8 979.9,276.8 981.4,275.6 982.9,274.3 984.4,272.9 985.9,271.4 987.4,270.0 988.9,268.5 990.4,267.1 991.9,265.8 993.4,264.6 994.9,263.4 996.4,262.2 997.9,261.0 999.4,259.9 1000.9,258.8 1002.4,257.8 1003.9,256.9 1005.4,256.0 1006.9,255.2 1008.4,254.5 1009.9,253.8 1011.4,253.2 1012.9,252.6 1014.4,252.0 1015.9,251.4 1017.4,250.8 1018.9,250.2 1020.4,249.6 1021.9,249.0 1023.4,248.4 1024.9,247.9 1026.4,247.3 1027.9,246.7 1029.4,246.0 1030.9,245.3 1032.4,244.4 1033.9,243.5 1035.4,242.4 1036.9,241.1 1038.4,239.7 1039.9,238.0 1041.4,236.3 1042.9,234.4 1044.4,232.4 1045.9,230.3 1047.4,228.0 1048.9,225.5 1050.4,222.8 1051.9,219.9 1053.4,216.9 1054.9,213.7 1056.4,210.3 1057.9,206.7 1059.4,202.9 1060.9,198.9 1062.4,194.8 1063.9,190.6 1065.4,186.2 1066.9,181.7 1068.4,177.0 1069.9,172.0 1071.4,166.7 1072.9,161.2 1074.4,155.5 1075.9,149.6 1077.4,143.5 1078.9,137.5 1080.4,131.8 1081.9,126.5 1083.4,121.6 1084.9,117.0 1086.4,112.4 1087.9,107.7 1089.4,103.0 1090.9,98.3 1092.4,93.8 1093.9,89.6 1095.4,85.6 1096.9,82.0 1098.4,78.6 1099.9,75.3 1101.4,72.1 1102.9,68.8 1104.4,65.4 1105.9,61.8 1107.4,58.1 1108.9,54.6 1110.4,51.4 1111.9,48.5 1113.4,45.9 1114.9,43.5 1116.4,41.4 1117.9,39.5 1119.4,37.8 1120.9,36.3 1122.4,34.9 1123.9,33.5 1125.4,32.4 1126.9,31.4 1128.4,30.6 1129.9,29.9 1131.4,29.5 1132.9,29.1 1134.4,28.8 1135.9,28.6 1137.4,28.4 1138.9,28.4 1140.4,28.4 1141.9,28.5 1143.4,28.8 1144.9,29.0 1146.4,29.4 1147.9,29.7 1149.4,30.1 1150.9,30.6 1152.4,31.0 1153.9,31.5 1155.4,32.0 1156.9,32.6 1158.4,33.3 1159.9,34.0 1161.4,34.6 1162.9,35.3 1164.4,35.8 1165.9,36.4 1167.4,36.9 1168.9,37.5 1170.4,38.1 1171.9,38.7 1173.4,39.4 1174.9,40.2 1176.4,41.1 1177.9,42.0 1179.4,43.1 1180.9,44.3 1182.4,45.6 1183.9,47.0 1185.4,48.5 1186.9,50.2 1188.4,52.2 1189.9,54.4 1191.4,57.0 1192.9,59.9 1194.4,63.1 1195.9,66.5 1197.4,70.1 1198.9,73.9 1200.4,78.1 1201.9,82.8 1203.4,87.7 1204.9,92.8 1206.4,97.9 1207.9,103.0 1209.4,108.1 1210.9,113.2 1212.4,118.3 1213.9,123.3 1215.4,128.3 1216.9,133.1 1218.4,137.9 1219.9,142.5 1221.4,147.0 1222.9,151.3 1224.4,155.3 1225.9,159.0 1227.4,162.6 1228.9,166.2 1230.4,169.8 1231.9,173.7 1233.4,177.7 1234.9,181.8 1236.4,186.1 1237.9,190.3 1239.4,194.4 1240.9,198.4 1242.4,202.1 1243.9,205.7 1245.4,209.2 1246.9,212.6 1248.4,215.9 1249.9,219.2 1251.4,222.4 1252.9,225.5 1254.4,228.6 1255.9,231.7 1257.4,234.6 1258.9,237.5 1260.4,240.3 1261.9,243.2 1263.4,246.1 1264.9,249.1 1266.4,252.3 1267.9,255.5 1269.4,258.6 1270.9,261.4 1272.4,263.9 1273.9,266.2 1275.4,268.3 1276.9,270.4 1278.4,272.3 1279.9,274.0 1281.4,275.7 1282.9,277.1 1284.4,278.4 1285.9,279.4 1287.4,280.3 1288.9,281.2 1290.4,281.9 1291.9,282.7 1293.4,283.3 1294.9,284.0 1296.4,284.6 1297.9,285.1 1299.4,285.6 1300.9,286.1 1302.4,286.5 1303.9,286.8 1305.4,287.1 1306.9,287.3 1308.4,287.5 1309.9,287.7 1311.4,287.8 1312.9,288.0 1314.4,288.1 1315.9,288.2 1317.4,288.3 1318.9,288.4 1320.4,288.5 1321.9,288.6 1323.4,288.7 1324.9,288.7 1326.4,288.7 1327.9,288.8 1329.4,288.8 1470.7,288.8" fill="none" stroke="#E69F00" stroke-width="3.35" stroke-linejoin="round" stroke-linecap="round"/>
<path d="M889.9,288.8 903.4,288.8 904.9,288.8 906.4,288.8 907.9,288.8 909.4,288.8 910.9,288.8 912.4,288.7 913.9,288.7 915.4,288.7 916.9,288.7 918.4,288.7 919.9,288.7 921.4,288.7 922.9,288.7 924.4,288.7 925.9,288.7 927.4,288.6 928.9,288.6 930.4,288.6 931.9,288.6 933.4,288.6 934.9,288.6 936.4,288.5 937.9,288.5 939.4,288.5 940.9,288.5 942.4,288.5 943.9,288.4 945.4,288.4 946.9,288.4 948.4,288.4 949.9,288.3 951.4,288.3 952.9,288.3 954.4,288.3 955.9,288.2 957.4,288.2 958.9,288.2 960.4,288.1 961.9,288.1 963.4,288.1 964.9,288.0 966.4,288.0 967.9,288.0 969.4,287.9 970.9,287.9 972.4,287.8 973.9,287.8 975.4,287.8 976.9,287.7 978.4,287.6 979.9,287.5 981.4,287.3 982.9,287.0 984.4,286.7 985.9,286.3 987.4,285.9 988.9,285.5 990.4,285.0 991.9,284.5 993.4,284.0 994.9,283.5 996.4,283.1 997.9,282.6 999.4,282.1 1000.9,281.5 1002.4,281.0 1003.9,280.4 1005.4,279.8 1006.9,279.2 1008.4,278.5 1009.9,277.9 1011.4,277.2 1012.9,276.5 1014.4,275.8 1015.9,275.1 1017.4,274.4 1018.9,273.6 1020.4,272.8 1021.9,272.0 1023.4,271.1 1024.9,270.3 1026.4,269.4 1027.9,268.5 1029.4,267.5 1030.9,266.6 1032.4,265.6 1033.9,264.6 1035.4,263.5 1036.9,262.5 1038.4,261.4 1039.9,260.2 1041.4,259.0 1042.9,257.8 1044.4,256.5 1045.9,255.1 1047.4,253.7 1048.9,252.2 1050.4,250.6 1051.9,248.9 1053.4,247.2 1054.9,245.5 1056.4,243.7 1057.9,241.8 1059.4,239.9 1060.9,238.0 1062.4,236.0 1063.9,233.9 1065.4,231.8 1066.9,229.6 1068.4,227.4 1069.9,225.1 1071.4,222.7 1072.9,220.2 1074.4,217.7 1075.9,215.2 1077.4,212.5 1078.9,209.8 1080.4,206.9 1081.9,203.9 1083.4,200.8 1084.9,197.4 1086.4,193.8 1087.9,189.8 1089.4,185.4 1090.9,180.6 1092.4,175.8 1093.9,171.0 1095.4,166.5 1096.9,162.3 1098.4,158.4 1099.9,154.6 1101.4,150.6 1102.9,146.1 1104.4,141.1 1105.9,135.7 1107.4,130.4 1108.9,125.7 1110.4,121.4 1111.9,117.5 1113.4,113.8 1114.9,110.3 1116.4,107.0 1117.9,103.8 1119.4,100.8 1120.9,97.8 1122.4,95.0 1123.9,92.2 1125.4,89.6 1126.9,87.0 1128.4,84.5 1129.9,82.1 1131.4,79.8 1132.9,77.5 1134.4,75.3 1135.9,73.1 1137.4,71.1 1138.9,69.1 1140.4,67.1 1141.9,65.2 1143.4,63.2 1144.9,61.3 1146.4,59.3 1147.9,57.2 1149.4,55.0 1150.9,52.8 1152.4,50.6 1153.9,48.3 1155.4,46.0 1156.9,43.7 1158.4,41.5 1159.9,39.2 1161.4,36.9 1162.9,34.5 1164.4,32.1 1165.9,29.6 1167.4,27.3 1168.9,25.2 1170.4,23.6 1171.9,22.4 1173.4,21.5 1174.9,20.8 1176.4,20.3 1177.9,19.9 1179.4,19.6 1180.9,19.6 1182.4,19.8 1183.9,20.3 1185.4,21.1 1186.9,22.1 1188.4,23.3 1189.9,24.6 1191.4,26.1 1192.9,27.9 1194.4,30.0 1195.9,32.7 1197.4,35.6 1198.9,38.9 1200.4,42.4 1201.9,46.0 1203.4,49.7 1204.9,53.6 1206.4,57.7 1207.9,62.2 1209.4,66.9 1210.9,71.9 1212.4,77.4 1213.9,83.3 1215.4,89.3 1216.9,95.2 1218.4,100.8 1219.9,106.1 1221.4,111.0 1222.9,115.8 1224.4,120.4 1225.9,125.0 1227.4,129.4 1228.9,133.8 1230.4,138.0 1231.9,142.2 1233.4,146.2 1234.9,150.2 1236.4,154.2 1237.9,158.0 1239.4,161.8 1240.9,165.2 1242.4,168.3 1243.9,171.0 1245.4,173.6 1246.9,175.8 1248.4,177.8 1249.9,179.3 1251.4,180.2 1252.9,180.8 1254.4,181.3 1255.9,181.6 1257.4,181.8 1258.9,181.9 1260.4,181.9 1261.9,181.9 1263.4,181.7 1264.9,181.6 1266.4,181.4 1267.9,181.3 1269.4,181.3 1270.9,181.5 1272.4,182.0 1273.9,182.8 1275.4,183.7 1276.9,184.8 1278.4,186.2 1279.9,187.8 1281.4,189.9 1282.9,192.3 1284.4,194.8 1285.9,197.5 1287.4,200.2 1288.9,203.1 1290.4,206.1 1291.9,209.2 1293.4,212.3 1294.9,215.5 1296.4,218.8 1297.9,222.1 1299.4,225.4 1300.9,228.7 1302.4,231.9 1303.9,235.1 1305.4,238.3 1306.9,241.3 1308.4,244.3 1309.9,247.0 1311.4,249.6 1312.9,251.9 1314.4,254.2 1315.9,256.4 1317.4,258.6 1318.9,260.6 1320.4,262.5 1321.9,264.3 1323.4,266.0 1324.9,267.5 1326.4,269.0 1327.9,270.3 1329.4,271.5 1330.9,272.7 1332.4,273.9 1333.9,275.0 1335.4,276.0 1336.9,277.0 1338.4,277.9 1339.9,278.8 1341.4,279.6 1342.9,280.3 1344.4,280.9 1345.9,281.5 1347.4,282.0 1348.9,282.5 1350.4,283.0 1351.9,283.5 1353.4,283.9 1354.9,284.3 1356.4,284.7 1357.9,285.1 1359.4,285.4 1360.9,285.7 1362.4,286.0 1363.9,286.3 1365.4,286.5 1366.9,286.7 1368.4,286.9 1369.9,287.1 1371.4,287.3 1372.9,287.4 1374.4,287.6 1375.9,287.7 1377.4,287.9 1378.9,288.0 1380.4,288.1 1381.9,288.2 1383.4,288.3 1384.9,288.4 1386.4,288.5 1387.9,288.5 1389.4,288.5 1390.9,288.5 1392.4,288.6 1393.9,288.6 1395.4,288.6 1396.9,288.6 1398.4,288.7 1399.9,288.7 1401.4,288.7 1402.9,288.7 1404.4,288.7 1405.9,288.7 1407.4,288.7 1408.9,288.8 1410.4,288.8 1411.9,288.8 1413.4,288.8 1470.7,288.8L1470.7,288.8L889.9,288.8Z" fill="#67A9D6" fill-opacity="0.55" stroke="none"/>
<path d="M889.9,288.8 903.4,288.8 904.9,288.8 906.4,288.8 907.9,288.8 909.4,288.8 910.9,288.8 912.4,288.7 913.9,288.7 915.4,288.7 916.9,288.7 918.4,288.7 919.9,288.7 921.4,288.7 922.9,288.7 924.4,288.7 925.9,288.7 927.4,288.6 928.9,288.6 930.4,288.6 931.9,288.6 933.4,288.6 934.9,288.6 936.4,288.5 937.9,288.5 939.4,288.5 940.9,288.5 942.4,288.5 943.9,288.4 945.4,288.4 946.9,288.4 948.4,288.4 949.9,288.3 951.4,288.3 952.9,288.3 954.4,288.3 955.9,288.2 957.4,288.2 958.9,288.2 960.4,288.1 961.9,288.1 963.4,288.1 964.9,288.0 966.4,288.0 967.9,288.0 969.4,287.9 970.9,287.9 972.4,287.8 973.9,287.8 975.4,287.8 976.9,287.7 978.4,287.6 979.9,287.5 981.4,287.3 982.9,287.0 984.4,286.7 985.9,286.3 987.4,285.9 988.9,285.5 990.4,285.0 991.9,284.5 993.4,284.0 994.9,283.5 996.4,283.1 997.9,282.6 999.4,282.1 1000.9,281.5 1002.4,281.0 1003.9,280.4 1005.4,279.8 1006.9,279.2 1008.4,278.5 1009.9,277.9 1011.4,277.2 1012.9,276.5 1014.4,275.8 1015.9,275.1 1017.4,274.4 1018.9,273.6 1020.4,272.8 1021.9,272.0 1023.4,271.1 1024.9,270.3 1026.4,269.4 1027.9,268.5 1029.4,267.5 1030.9,266.6 1032.4,265.6 1033.9,264.6 1035.4,263.5 1036.9,262.5 1038.4,261.4 1039.9,260.2 1041.4,259.0 1042.9,257.8 1044.4,256.5 1045.9,255.1 1047.4,253.7 1048.9,252.2 1050.4,250.6 1051.9,248.9 1053.4,247.2 1054.9,245.5 1056.4,243.7 1057.9,241.8 1059.4,239.9 1060.9,238.0 1062.4,236.0 1063.9,233.9 1065.4,231.8 1066.9,229.6 1068.4,227.4 1069.9,225.1 1071.4,222.7 1072.9,220.2 1074.4,217.7 1075.9,215.2 1077.4,212.5 1078.9,209.8 1080.4,206.9 1081.9,203.9 1083.4,200.8 1084.9,197.4 1086.4,193.8 1087.9,189.8 1089.4,185.4 1090.9,180.6 1092.4,175.8 1093.9,171.0 1095.4,166.5 1096.9,162.3 1098.4,158.4 1099.9,154.6 1101.4,150.6 1102.9,146.1 1104.4,141.1 1105.9,135.7 1107.4,130.4 1108.9,125.7 1110.4,121.4 1111.9,117.5 1113.4,113.8 1114.9,110.3 1116.4,107.0 1117.9,103.8 1119.4,100.8 1120.9,97.8 1122.4,95.0 1123.9,92.2 1125.4,89.6 1126.9,87.0 1128.4,84.5 1129.9,82.1 1131.4,79.8 1132.9,77.5 1134.4,75.3 1135.9,73.1 1137.4,71.1 1138.9,69.1 1140.4,67.1 1141.9,65.2 1143.4,63.2 1144.9,61.3 1146.4,59.3 1147.9,57.2 1149.4,55.0 1150.9,52.8 1152.4,50.6 1153.9,48.3 1155.4,46.0 1156.9,43.7 1158.4,41.5 1159.9,39.2 1161.4,36.9 1162.9,34.5 1164.4,32.1 1165.9,29.6 1167.4,27.3 1168.9,25.2 1170.4,23.6 1171.9,22.4 1173.4,21.5 1174.9,20.8 1176.4,20.3 1177.9,19.9 1179.4,19.6 1180.9,19.6 1182.4,19.8 1183.9,20.3 1185.4,21.1 1186.9,22.1 1188.4,23.3 1189.9,24.6 1191.4,26.1 1192.9,27.9 1194.4,30.0 1195.9,32.7 1197.4,35.6 1198.9,38.9 1200.4,42.4 1201.9,46.0 1203.4,49.7 1204.9,53.6 1206.4,57.7 1207.9,62.2 1209.4,66.9 1210.9,71.9 1212.4,77.4 1213.9,83.3 1215.4,89.3 1216.9,95.2 1218.4,100.8 1219.9,106.1 1221.4,111.0 1222.9,115.8 1224.4,120.4 1225.9,125.0 1227.4,129.4 1228.9,133.8 1230.4,138.0 1231.9,142.2 1233.4,146.2 1234.9,150.2 1236.4,154.2 1237.9,158.0 1239.4,161.8 1240.9,165.2 1242.4,168.3 1243.9,171.0 1245.4,173.6 1246.9,175.8 1248.4,177.8 1249.9,179.3 1251.4,180.2 1252.9,180.8 1254.4,181.3 1255.9,181.6 1257.4,181.8 1258.9,181.9 1260.4,181.9 1261.9,181.9 1263.4,181.7 1264.9,181.6 1266.4,181.4 1267.9,181.3 1269.4,181.3 1270.9,181.5 1272.4,182.0 1273.9,182.8 1275.4,183.7 1276.9,184.8 1278.4,186.2 1279.9,187.8 1281.4,189.9 1282.9,192.3 1284.4,194.8 1285.9,197.5 1287.4,200.2 1288.9,203.1 1290.4,206.1 1291.9,209.2 1293.4,212.3 1294.9,215.5 1296.4,218.8 1297.9,222.1 1299.4,225.4 1300.9,228.7 1302.4,231.9 1303.9,235.1 1305.4,238.3 1306.9,241.3 1308.4,244.3 1309.9,247.0 1311.4,249.6 1312.9,251.9 1314.4,254.2 1315.9,256.4 1317.4,258.6 1318.9,260.6 1320.4,262.5 1321.9,264.3 1323.4,266.0 1324.9,267.5 1326.4,269.0 1327.9,270.3 1329.4,271.5 1330.9,272.7 1332.4,273.9 1333.9,275.0 1335.4,276.0 1336.9,277.0 1338.4,277.9 1339.9,278.8 1341.4,279.6 1342.9,280.3 1344.4,280.9 1345.9,281.5 1347.4,282.0 1348.9,282.5 1350.4,283.0 1351.9,283.5 1353.4,283.9 1354.9,284.3 1356.4,284.7 1357.9,285.1 1359.4,285.4 1360.9,285.7 1362.4,286.0 1363.9,286.3 1365.4,286.5 1366.9,286.7 1368.4,286.9 1369.9,287.1 1371.4,287.3 1372.9,287.4 1374.4,287.6 1375.9,287.7 1377.4,287.9 1378.9,288.0 1380.4,288.1 1381.9,288.2 1383.4,288.3 1384.9,288.4 1386.4,288.5 1387.9,288.5 1389.4,288.5 1390.9,288.5 1392.4,288.6 1393.9,288.6 1395.4,288.6 1396.9,288.6 1398.4,288.7 1399.9,288.7 1401.4,288.7 1402.9,288.7 1404.4,288.7 1405.9,288.7 1407.4,288.7 1408.9,288.8 1410.4,288.8 1411.9,288.8 1413.4,288.8 1470.7,288.8" fill="none" stroke="#67A9D6" stroke-width="3.35" stroke-linejoin="round" stroke-linecap="round"/>
<line x1="1137.3" y1="302.9" x2="1137.3" y2="6.3" stroke="#000" stroke-width="3.35" stroke-dasharray="12.8 12.8"/>
<line x1="1172.1" y1="302.9" x2="1172.1" y2="6.3" stroke="#000" stroke-width="3.35" stroke-dasharray="3.2 9.6"/>
<line x1="851.0" y1="288.8" x2="860.0" y2="288.8" stroke="#333" stroke-width="3.35"/>
<text transform="translate(843.70,299.55) scale(1,1.045)" text-anchor="end" class="tk">0</text>
<line x1="851.0" y1="231.0" x2="860.0" y2="231.0" stroke="#333" stroke-width="3.35"/>
<text transform="translate(843.70,241.75) scale(1,1.045)" text-anchor="end" class="tk">5</text>
<line x1="851.0" y1="173.2" x2="860.0" y2="173.2" stroke="#333" stroke-width="3.35"/>
<text transform="translate(843.70,183.95) scale(1,1.045)" text-anchor="end" class="tk">10</text>
<line x1="851.0" y1="115.4" x2="860.0" y2="115.4" stroke="#333" stroke-width="3.35"/>
<text transform="translate(843.70,126.15) scale(1,1.045)" text-anchor="end" class="tk">15</text>
<line x1="851.0" y1="57.6" x2="860.0" y2="57.6" stroke="#333" stroke-width="3.35"/>
<text transform="translate(843.70,68.35) scale(1,1.045)" text-anchor="end" class="tk">20</text>
<line x1="998.1" y1="302.9" x2="998.1" y2="311.9" stroke="#333" stroke-width="3.35"/>
<text transform="translate(998.10,341.30) scale(1,1.045)" text-anchor="middle" class="tk">0.35</text>
<line x1="1180.0" y1="302.9" x2="1180.0" y2="311.9" stroke="#333" stroke-width="3.35"/>
<text transform="translate(1180.00,341.30) scale(1,1.045)" text-anchor="middle" class="tk">0.40</text>
<line x1="1361.9" y1="302.9" x2="1361.9" y2="311.9" stroke="#333" stroke-width="3.35"/>
<text transform="translate(1361.90,341.30) scale(1,1.045)" text-anchor="middle" class="tk">0.45</text>
<line x1="860.0" y1="6.3" x2="860.0" y2="302.9" stroke="#000" stroke-width="3.35"/>
<line x1="860.0" y1="302.9" x2="1500.0" y2="302.9" stroke="#000" stroke-width="3.35"/>
<text transform="translate(794.60,154.60) rotate(-90) scale(1,1.045)" text-anchor="middle" class="ty">Density</text>
</g>
<g>
<path d="M124.3,719.6 169.3,719.6 170.8,719.6 172.3,719.6 173.8,719.6 175.3,719.6 176.8,719.6 178.3,719.6 179.8,719.6 181.3,719.6 182.8,719.6 184.3,719.6 185.8,719.6 187.3,719.6 188.8,719.6 190.3,719.6 191.8,719.5 193.3,719.5 194.8,719.5 196.3,719.5 197.8,719.5 199.3,719.5 200.8,719.5 202.3,719.5 203.8,719.5 205.3,719.5 206.8,719.5 208.3,719.5 209.8,719.5 211.3,719.5 212.8,719.5 214.3,719.5 215.8,719.5 217.3,719.5 218.8,719.5 220.3,719.5 221.8,719.5 223.3,719.5 224.8,719.5 226.3,719.5 227.8,719.5 229.3,719.4 230.8,719.4 232.3,719.4 233.8,719.4 235.3,719.4 236.8,719.4 238.3,719.4 239.8,719.4 241.3,719.4 242.8,719.3 244.3,719.2 245.8,719.1 247.3,718.9 248.8,718.8 250.3,718.6 251.8,718.5 253.3,718.3 254.8,718.1 256.3,718.0 257.8,717.8 259.3,717.6 260.8,717.4 262.3,717.2 263.8,717.0 265.3,716.7 266.8,716.4 268.3,716.1 269.8,715.8 271.3,715.4 272.8,715.0 274.3,714.6 275.8,714.0 277.3,713.4 278.8,712.8 280.3,712.0 281.8,711.3 283.3,710.4 284.8,709.5 286.3,708.6 287.8,707.4 289.3,706.1 290.8,704.7 292.3,703.2 293.8,701.5 295.3,699.8 296.8,698.0 298.3,696.2 299.8,694.3 301.3,692.3 302.8,690.2 304.3,688.0 305.8,685.7 307.3,683.3 308.8,680.8 310.3,678.3 311.8,675.7 313.3,673.0 314.8,670.1 316.3,667.2 317.8,664.2 319.3,661.0 320.8,657.7 322.3,654.3 323.8,650.8 325.3,647.0 326.8,643.2 328.3,639.2 329.8,635.2 331.3,631.0 332.8,626.8 334.3,622.5 335.8,618.1 337.3,613.5 338.8,608.9 340.3,604.2 341.8,599.5 343.3,594.6 344.8,589.7 346.3,584.7 347.8,579.8 349.3,574.9 350.8,570.1 352.3,565.3 353.8,560.6 355.3,555.9 356.8,551.4 358.3,546.9 359.8,542.5 361.3,538.2 362.8,534.0 364.3,529.8 365.8,525.8 367.3,521.8 368.8,517.7 370.3,513.6 371.8,509.4 373.3,505.2 374.8,501.4 376.3,498.0 377.8,495.2 379.3,493.1 380.8,491.4 382.3,490.0 383.8,488.8 385.3,487.8 386.8,486.9 388.3,486.4 389.8,486.2 391.3,486.4 392.8,487.1 394.3,488.3 395.8,489.7 397.3,491.3 398.8,493.1 400.3,495.1 401.8,497.5 403.3,500.1 404.8,502.9 406.3,506.0 407.8,509.2 409.3,512.5 410.8,515.8 412.3,519.4 413.8,523.0 415.3,526.9 416.8,530.8 418.3,534.9 419.8,539.1 421.3,543.2 422.8,547.4 424.3,551.6 425.8,556.0 427.3,560.3 428.8,564.5 430.3,568.5 431.8,572.2 433.3,575.8 434.8,579.1 436.3,582.3 437.8,585.4 439.3,588.3 440.8,590.9 442.3,593.2 443.8,595.0 445.3,596.5 446.8,597.6 448.3,598.2 449.8,598.1 451.3,597.7 452.8,597.0 454.3,596.1 455.8,595.0 457.3,593.6 458.8,591.5 460.3,588.8 461.8,585.5 463.3,581.8 464.8,577.8 466.3,573.8 467.8,569.6 469.3,565.3 470.8,560.7 472.3,555.8 473.8,550.8 475.3,545.7 476.8,540.9 478.3,536.2 479.8,531.5 481.3,526.9 482.8,522.3 484.3,518.1 485.8,514.4 487.3,511.4 488.8,509.2 490.3,507.5 491.8,506.0 493.3,504.8 494.8,503.8 496.3,503.1 497.8,502.8 499.3,502.8 500.8,503.3 502.3,504.2 503.8,505.4 505.3,506.7 506.8,508.4 508.3,510.5 509.8,513.1 511.3,516.1 512.8,519.6 514.3,523.3 515.8,527.3 517.3,531.7 518.8,536.7 520.3,542.1 521.8,548.1 523.3,554.9 524.8,562.1 526.3,569.3 527.8,576.4 529.3,583.2 530.8,589.8 532.3,596.1 533.8,602.2 535.3,608.2 536.8,613.9 538.3,619.5 539.8,625.1 541.3,630.5 542.8,635.9 544.3,641.3 545.8,646.6 547.3,651.8 548.8,656.8 550.3,661.4 551.8,665.8 553.3,670.0 554.8,673.9 556.3,677.8 557.8,681.4 559.3,684.8 560.8,688.0 562.3,690.9 563.8,693.6 565.3,696.2 566.8,698.6 568.3,700.8 569.8,702.9 571.3,704.9 572.8,706.6 574.3,708.1 575.8,709.3 577.3,710.4 578.8,711.5 580.3,712.4 581.8,713.3 583.3,714.1 584.8,714.9 586.3,715.5 587.8,716.1 589.3,716.6 590.8,716.9 592.3,717.2 593.8,717.5 595.3,717.8 596.8,718.0 598.3,718.2 599.8,718.4 601.3,718.5 602.8,718.7 604.3,718.8 605.8,718.9 607.3,719.0 608.8,719.1 610.3,719.1 611.8,719.2 613.3,719.2 614.8,719.3 616.3,719.3 617.8,719.3 619.3,719.4 620.8,719.4 622.3,719.4 623.8,719.5 625.3,719.5 626.8,719.5 628.3,719.5 629.8,719.5 631.3,719.6 632.8,719.6 634.3,719.6 635.8,719.6 705.8,719.6L706.0,719.6L124.3,719.6Z" fill="#D55E00" fill-opacity="0.55" stroke="none"/>
<path d="M124.3,719.6 169.3,719.6 170.8,719.6 172.3,719.6 173.8,719.6 175.3,719.6 176.8,719.6 178.3,719.6 179.8,719.6 181.3,719.6 182.8,719.6 184.3,719.6 185.8,719.6 187.3,719.6 188.8,719.6 190.3,719.6 191.8,719.5 193.3,719.5 194.8,719.5 196.3,719.5 197.8,719.5 199.3,719.5 200.8,719.5 202.3,719.5 203.8,719.5 205.3,719.5 206.8,719.5 208.3,719.5 209.8,719.5 211.3,719.5 212.8,719.5 214.3,719.5 215.8,719.5 217.3,719.5 218.8,719.5 220.3,719.5 221.8,719.5 223.3,719.5 224.8,719.5 226.3,719.5 227.8,719.5 229.3,719.4 230.8,719.4 232.3,719.4 233.8,719.4 235.3,719.4 236.8,719.4 238.3,719.4 239.8,719.4 241.3,719.4 242.8,719.3 244.3,719.2 245.8,719.1 247.3,718.9 248.8,718.8 250.3,718.6 251.8,718.5 253.3,718.3 254.8,718.1 256.3,718.0 257.8,717.8 259.3,717.6 260.8,717.4 262.3,717.2 263.8,717.0 265.3,716.7 266.8,716.4 268.3,716.1 269.8,715.8 271.3,715.4 272.8,715.0 274.3,714.6 275.8,714.0 277.3,713.4 278.8,712.8 280.3,712.0 281.8,711.3 283.3,710.4 284.8,709.5 286.3,708.6 287.8,707.4 289.3,706.1 290.8,704.7 292.3,703.2 293.8,701.5 295.3,699.8 296.8,698.0 298.3,696.2 299.8,694.3 301.3,692.3 302.8,690.2 304.3,688.0 305.8,685.7 307.3,683.3 308.8,680.8 310.3,678.3 311.8,675.7 313.3,673.0 314.8,670.1 316.3,667.2 317.8,664.2 319.3,661.0 320.8,657.7 322.3,654.3 323.8,650.8 325.3,647.0 326.8,643.2 328.3,639.2 329.8,635.2 331.3,631.0 332.8,626.8 334.3,622.5 335.8,618.1 337.3,613.5 338.8,608.9 340.3,604.2 341.8,599.5 343.3,594.6 344.8,589.7 346.3,584.7 347.8,579.8 349.3,574.9 350.8,570.1 352.3,565.3 353.8,560.6 355.3,555.9 356.8,551.4 358.3,546.9 359.8,542.5 361.3,538.2 362.8,534.0 364.3,529.8 365.8,525.8 367.3,521.8 368.8,517.7 370.3,513.6 371.8,509.4 373.3,505.2 374.8,501.4 376.3,498.0 377.8,495.2 379.3,493.1 380.8,491.4 382.3,490.0 383.8,488.8 385.3,487.8 386.8,486.9 388.3,486.4 389.8,486.2 391.3,486.4 392.8,487.1 394.3,488.3 395.8,489.7 397.3,491.3 398.8,493.1 400.3,495.1 401.8,497.5 403.3,500.1 404.8,502.9 406.3,506.0 407.8,509.2 409.3,512.5 410.8,515.8 412.3,519.4 413.8,523.0 415.3,526.9 416.8,530.8 418.3,534.9 419.8,539.1 421.3,543.2 422.8,547.4 424.3,551.6 425.8,556.0 427.3,560.3 428.8,564.5 430.3,568.5 431.8,572.2 433.3,575.8 434.8,579.1 436.3,582.3 437.8,585.4 439.3,588.3 440.8,590.9 442.3,593.2 443.8,595.0 445.3,596.5 446.8,597.6 448.3,598.2 449.8,598.1 451.3,597.7 452.8,597.0 454.3,596.1 455.8,595.0 457.3,593.6 458.8,591.5 460.3,588.8 461.8,585.5 463.3,581.8 464.8,577.8 466.3,573.8 467.8,569.6 469.3,565.3 470.8,560.7 472.3,555.8 473.8,550.8 475.3,545.7 476.8,540.9 478.3,536.2 479.8,531.5 481.3,526.9 482.8,522.3 484.3,518.1 485.8,514.4 487.3,511.4 488.8,509.2 490.3,507.5 491.8,506.0 493.3,504.8 494.8,503.8 496.3,503.1 497.8,502.8 499.3,502.8 500.8,503.3 502.3,504.2 503.8,505.4 505.3,506.7 506.8,508.4 508.3,510.5 509.8,513.1 511.3,516.1 512.8,519.6 514.3,523.3 515.8,527.3 517.3,531.7 518.8,536.7 520.3,542.1 521.8,548.1 523.3,554.9 524.8,562.1 526.3,569.3 527.8,576.4 529.3,583.2 530.8,589.8 532.3,596.1 533.8,602.2 535.3,608.2 536.8,613.9 538.3,619.5 539.8,625.1 541.3,630.5 542.8,635.9 544.3,641.3 545.8,646.6 547.3,651.8 548.8,656.8 550.3,661.4 551.8,665.8 553.3,670.0 554.8,673.9 556.3,677.8 557.8,681.4 559.3,684.8 560.8,688.0 562.3,690.9 563.8,693.6 565.3,696.2 566.8,698.6 568.3,700.8 569.8,702.9 571.3,704.9 572.8,706.6 574.3,708.1 575.8,709.3 577.3,710.4 578.8,711.5 580.3,712.4 581.8,713.3 583.3,714.1 584.8,714.9 586.3,715.5 587.8,716.1 589.3,716.6 590.8,716.9 592.3,717.2 593.8,717.5 595.3,717.8 596.8,718.0 598.3,718.2 599.8,718.4 601.3,718.5 602.8,718.7 604.3,718.8 605.8,718.9 607.3,719.0 608.8,719.1 610.3,719.1 611.8,719.2 613.3,719.2 614.8,719.3 616.3,719.3 617.8,719.3 619.3,719.4 620.8,719.4 622.3,719.4 623.8,719.5 625.3,719.5 626.8,719.5 628.3,719.5 629.8,719.5 631.3,719.6 632.8,719.6 634.3,719.6 635.8,719.6 705.8,719.6" fill="none" stroke="#D55E00" stroke-width="3.35" stroke-linejoin="round" stroke-linecap="round"/>
<path d="M124.3,719.6 155.8,719.6 157.3,719.6 158.8,719.6 160.3,719.6 161.8,719.6 163.3,719.6 164.8,719.6 166.3,719.6 167.8,719.6 169.3,719.6 170.8,719.6 172.3,719.6 173.8,719.5 175.3,719.5 176.8,719.5 178.3,719.5 179.8,719.5 181.3,719.5 182.8,719.5 184.3,719.5 185.8,719.5 187.3,719.5 188.8,719.5 190.3,719.5 191.8,719.5 193.3,719.5 194.8,719.5 196.3,719.5 197.8,719.5 199.3,719.5 200.8,719.5 202.3,719.5 203.8,719.5 205.3,719.5 206.8,719.4 208.3,719.4 209.8,719.4 211.3,719.4 212.8,719.4 214.3,719.4 215.8,719.4 217.3,719.4 218.8,719.4 220.3,719.4 221.8,719.4 223.3,719.4 224.8,719.4 226.3,719.4 227.8,719.3 229.3,719.3 230.8,719.3 232.3,719.3 233.8,719.3 235.3,719.3 236.8,719.3 238.3,719.3 239.8,719.3 241.3,719.3 242.8,719.3 244.3,719.2 245.8,719.2 247.3,719.2 248.8,719.2 250.3,719.2 251.8,719.2 253.3,719.2 254.8,719.2 256.3,719.2 257.8,719.1 259.3,719.1 260.8,719.1 262.3,719.1 263.8,719.1 265.3,719.1 266.8,719.1 268.3,719.1 269.8,719.0 271.3,719.0 272.8,719.0 274.3,719.0 275.8,719.0 277.3,719.0 278.8,719.0 280.3,718.9 281.8,718.9 283.3,718.9 284.8,718.9 286.3,718.9 287.8,718.9 289.3,718.8 290.8,718.8 292.3,718.7 293.8,718.7 295.3,718.6 296.8,718.5 298.3,718.4 299.8,718.3 301.3,718.2 302.8,718.1 304.3,718.0 305.8,717.9 307.3,717.7 308.8,717.6 310.3,717.4 311.8,717.3 313.3,717.1 314.8,716.9 316.3,716.6 317.8,716.3 319.3,716.0 320.8,715.6 322.3,715.2 323.8,714.8 325.3,714.4 326.8,714.0 328.3,713.5 329.8,713.0 331.3,712.4 332.8,711.8 334.3,711.2 335.8,710.5 337.3,709.7 338.8,708.9 340.3,708.1 341.8,707.2 343.3,706.2 344.8,705.3 346.3,704.2 347.8,703.0 349.3,701.7 350.8,700.3 352.3,698.8 353.8,697.2 355.3,695.5 356.8,693.8 358.3,692.1 359.8,690.3 361.3,688.5 362.8,686.7 364.3,684.8 365.8,682.7 367.3,680.6 368.8,678.3 370.3,675.7 371.8,672.9 373.3,669.7 374.8,666.2 376.3,662.4 377.8,658.5 379.3,654.7 380.8,650.9 382.3,647.2 383.8,643.4 385.3,639.7 386.8,636.0 388.3,632.4 389.8,628.9 391.3,625.6 392.8,622.4 394.3,619.4 395.8,616.5 397.3,613.7 398.8,611.1 400.3,608.6 401.8,606.2 403.3,604.1 404.8,602.1 406.3,600.3 407.8,598.5 409.3,596.9 410.8,595.2 412.3,593.5 413.8,591.8 415.3,590.0 416.8,588.1 418.3,586.2 419.8,584.2 421.3,581.9 422.8,579.4 424.3,576.6 425.8,573.4 427.3,569.8 428.8,565.9 430.3,561.7 431.8,557.1 433.3,552.4 434.8,547.6 436.3,542.7 437.8,537.5 439.3,532.1 440.8,526.3 442.3,520.4 443.8,514.6 445.3,508.8 446.8,503.3 448.3,498.2 449.8,493.5 451.3,489.2 452.8,485.2 454.3,481.5 455.8,478.2 457.3,475.5 458.8,473.2 460.3,471.3 461.8,469.7 463.3,468.3 464.8,467.2 466.3,466.5 467.8,466.2 469.3,466.3 470.8,466.6 472.3,467.1 473.8,467.8 475.3,468.6 476.8,469.4 478.3,470.4 479.8,471.4 481.3,472.5 482.8,473.8 484.3,475.3 485.8,477.0 487.3,478.6 488.8,480.2 490.3,481.6 491.8,482.9 493.3,484.2 494.8,485.4 496.3,486.6 497.8,487.8 499.3,489.1 500.8,490.4 502.3,491.8 503.8,493.2 505.3,494.7 506.8,496.2 508.3,497.9 509.8,499.7 511.3,501.8 512.8,504.0 514.3,506.5 515.8,509.0 517.3,511.7 518.8,514.3 520.3,517.0 521.8,519.7 523.3,522.5 524.8,525.3 526.3,528.2 527.8,530.9 529.3,533.7 530.8,536.3 532.3,539.0 533.8,541.7 535.3,544.2 536.8,546.6 538.3,548.9 539.8,550.9 541.3,552.6 542.8,554.2 544.3,555.6 545.8,557.0 547.3,558.5 548.8,560.1 550.3,561.9 551.8,563.9 553.3,566.1 554.8,568.4 556.3,570.8 557.8,573.2 559.3,575.6 560.8,577.9 562.3,580.3 563.8,582.7 565.3,585.1 566.8,587.5 568.3,590.1 569.8,592.7 571.3,595.5 572.8,598.5 574.3,601.6 575.8,604.9 577.3,608.2 578.8,611.7 580.3,615.2 581.8,618.6 583.3,622.1 584.8,625.7 586.3,629.3 587.8,632.9 589.3,636.5 590.8,640.1 592.3,643.7 593.8,647.3 595.3,650.9 596.8,654.6 598.3,658.1 599.8,661.6 601.3,665.0 602.8,668.3 604.3,671.4 605.8,674.4 607.3,677.3 608.8,680.2 610.3,682.9 611.8,685.6 613.3,688.1 614.8,690.5 616.3,692.9 617.8,695.1 619.3,697.3 620.8,699.5 622.3,701.5 623.8,703.4 625.3,705.1 626.8,706.7 628.3,708.2 629.8,709.7 631.3,711.0 632.8,712.3 634.3,713.5 635.8,714.5 637.3,715.3 638.8,715.9 640.3,716.4 641.8,716.8 643.3,717.2 644.8,717.5 646.3,717.8 647.8,718.1 649.3,718.4 650.8,718.6 652.3,718.8 653.8,719.0 655.3,719.2 656.8,719.3 658.3,719.3 659.8,719.4 661.3,719.4 662.8,719.4 664.3,719.4 665.8,719.5 667.3,719.5 668.8,719.5 670.3,719.5 671.8,719.5 673.3,719.5 674.8,719.5 676.3,719.5 677.8,719.5 679.3,719.5 680.8,719.5 682.3,719.6 683.8,719.6 685.3,719.6 686.8,719.6 688.3,719.6 689.8,719.6 691.3,719.6 705.8,719.6L706.0,719.6L124.3,719.6Z" fill="#E69F00" fill-opacity="0.55" stroke="none"/>
<path d="M124.3,719.6 155.8,719.6 157.3,719.6 158.8,719.6 160.3,719.6 161.8,719.6 163.3,719.6 164.8,719.6 166.3,719.6 167.8,719.6 169.3,719.6 170.8,719.6 172.3,719.6 173.8,719.5 175.3,719.5 176.8,719.5 178.3,719.5 179.8,719.5 181.3,719.5 182.8,719.5 184.3,719.5 185.8,719.5 187.3,719.5 188.8,719.5 190.3,719.5 191.8,719.5 193.3,719.5 194.8,719.5 196.3,719.5 197.8,719.5 199.3,719.5 200.8,719.5 202.3,719.5 203.8,719.5 205.3,719.5 206.8,719.4 208.3,719.4 209.8,719.4 211.3,719.4 212.8,719.4 214.3,719.4 215.8,719.4 217.3,719.4 218.8,719.4 220.3,719.4 221.8,719.4 223.3,719.4 224.8,719.4 226.3,719.4 227.8,719.3 229.3,719.3 230.8,719.3 232.3,719.3 233.8,719.3 235.3,719.3 236.8,719.3 238.3,719.3 239.8,719.3 241.3,719.3 242.8,719.3 244.3,719.2 245.8,719.2 247.3,719.2 248.8,719.2 250.3,719.2 251.8,719.2 253.3,719.2 254.8,719.2 256.3,719.2 257.8,719.1 259.3,719.1 260.8,719.1 262.3,719.1 263.8,719.1 265.3,719.1 266.8,719.1 268.3,719.1 269.8,719.0 271.3,719.0 272.8,719.0 274.3,719.0 275.8,719.0 277.3,719.0 278.8,719.0 280.3,718.9 281.8,718.9 283.3,718.9 284.8,718.9 286.3,718.9 287.8,718.9 289.3,718.8 290.8,718.8 292.3,718.7 293.8,718.7 295.3,718.6 296.8,718.5 298.3,718.4 299.8,718.3 301.3,718.2 302.8,718.1 304.3,718.0 305.8,717.9 307.3,717.7 308.8,717.6 310.3,717.4 311.8,717.3 313.3,717.1 314.8,716.9 316.3,716.6 317.8,716.3 319.3,716.0 320.8,715.6 322.3,715.2 323.8,714.8 325.3,714.4 326.8,714.0 328.3,713.5 329.8,713.0 331.3,712.4 332.8,711.8 334.3,711.2 335.8,710.5 337.3,709.7 338.8,708.9 340.3,708.1 341.8,707.2 343.3,706.2 344.8,705.3 346.3,704.2 347.8,703.0 349.3,701.7 350.8,700.3 352.3,698.8 353.8,697.2 355.3,695.5 356.8,693.8 358.3,692.1 359.8,690.3 361.3,688.5 362.8,686.7 364.3,684.8 365.8,682.7 367.3,680.6 368.8,678.3 370.3,675.7 371.8,672.9 373.3,669.7 374.8,666.2 376.3,662.4 377.8,658.5 379.3,654.7 380.8,650.9 382.3,647.2 383.8,643.4 385.3,639.7 386.8,636.0 388.3,632.4 389.8,628.9 391.3,625.6 392.8,622.4 394.3,619.4 395.8,616.5 397.3,613.7 398.8,611.1 400.3,608.6 401.8,606.2 403.3,604.1 404.8,602.1 406.3,600.3 407.8,598.5 409.3,596.9 410.8,595.2 412.3,593.5 413.8,591.8 415.3,590.0 416.8,588.1 418.3,586.2 419.8,584.2 421.3,581.9 422.8,579.4 424.3,576.6 425.8,573.4 427.3,569.8 428.8,565.9 430.3,561.7 431.8,557.1 433.3,552.4 434.8,547.6 436.3,542.7 437.8,537.5 439.3,532.1 440.8,526.3 442.3,520.4 443.8,514.6 445.3,508.8 446.8,503.3 448.3,498.2 449.8,493.5 451.3,489.2 452.8,485.2 454.3,481.5 455.8,478.2 457.3,475.5 458.8,473.2 460.3,471.3 461.8,469.7 463.3,468.3 464.8,467.2 466.3,466.5 467.8,466.2 469.3,466.3 470.8,466.6 472.3,467.1 473.8,467.8 475.3,468.6 476.8,469.4 478.3,470.4 479.8,471.4 481.3,472.5 482.8,473.8 484.3,475.3 485.8,477.0 487.3,478.6 488.8,480.2 490.3,481.6 491.8,482.9 493.3,484.2 494.8,485.4 496.3,486.6 497.8,487.8 499.3,489.1 500.8,490.4 502.3,491.8 503.8,493.2 505.3,494.7 506.8,496.2 508.3,497.9 509.8,499.7 511.3,501.8 512.8,504.0 514.3,506.5 515.8,509.0 517.3,511.7 518.8,514.3 520.3,517.0 521.8,519.7 523.3,522.5 524.8,525.3 526.3,528.2 527.8,530.9 529.3,533.7 530.8,536.3 532.3,539.0 533.8,541.7 535.3,544.2 536.8,546.6 538.3,548.9 539.8,550.9 541.3,552.6 542.8,554.2 544.3,555.6 545.8,557.0 547.3,558.5 548.8,560.1 550.3,561.9 551.8,563.9 553.3,566.1 554.8,568.4 556.3,570.8 557.8,573.2 559.3,575.6 560.8,577.9 562.3,580.3 563.8,582.7 565.3,585.1 566.8,587.5 568.3,590.1 569.8,592.7 571.3,595.5 572.8,598.5 574.3,601.6 575.8,604.9 577.3,608.2 578.8,611.7 580.3,615.2 581.8,618.6 583.3,622.1 584.8,625.7 586.3,629.3 587.8,632.9 589.3,636.5 590.8,640.1 592.3,643.7 593.8,647.3 595.3,650.9 596.8,654.6 598.3,658.1 599.8,661.6 601.3,665.0 602.8,668.3 604.3,671.4 605.8,674.4 607.3,677.3 608.8,680.2 610.3,682.9 611.8,685.6 613.3,688.1 614.8,690.5 616.3,692.9 617.8,695.1 619.3,697.3 620.8,699.5 622.3,701.5 623.8,703.4 625.3,705.1 626.8,706.7 628.3,708.2 629.8,709.7 631.3,711.0 632.8,712.3 634.3,713.5 635.8,714.5 637.3,715.3 638.8,715.9 640.3,716.4 641.8,716.8 643.3,717.2 644.8,717.5 646.3,717.8 647.8,718.1 649.3,718.4 650.8,718.6 652.3,718.8 653.8,719.0 655.3,719.2 656.8,719.3 658.3,719.3 659.8,719.4 661.3,719.4 662.8,719.4 664.3,719.4 665.8,719.5 667.3,719.5 668.8,719.5 670.3,719.5 671.8,719.5 673.3,719.5 674.8,719.5 676.3,719.5 677.8,719.5 679.3,719.5 680.8,719.5 682.3,719.6 683.8,719.6 685.3,719.6 686.8,719.6 688.3,719.6 689.8,719.6 691.3,719.6 705.8,719.6" fill="none" stroke="#E69F00" stroke-width="3.35" stroke-linejoin="round" stroke-linecap="round"/>
<path d="M124.3,719.6 167.8,719.6 169.3,719.6 170.8,719.6 172.3,719.6 173.8,719.6 175.3,719.6 176.8,719.6 178.3,719.6 179.8,719.6 181.3,719.6 182.8,719.6 184.3,719.6 185.8,719.6 187.3,719.6 188.8,719.6 190.3,719.6 191.8,719.5 193.3,719.5 194.8,719.5 196.3,719.5 197.8,719.5 199.3,719.5 200.8,719.5 202.3,719.5 203.8,719.5 205.3,719.5 206.8,719.5 208.3,719.5 209.8,719.5 211.3,719.5 212.8,719.5 214.3,719.5 215.8,719.5 217.3,719.5 218.8,719.5 220.3,719.5 221.8,719.5 223.3,719.5 224.8,719.5 226.3,719.5 227.8,719.5 229.3,719.5 230.8,719.5 232.3,719.5 233.8,719.4 235.3,719.4 236.8,719.4 238.3,719.4 239.8,719.4 241.3,719.4 242.8,719.4 244.3,719.4 245.8,719.4 247.3,719.4 248.8,719.4 250.3,719.4 251.8,719.4 253.3,719.4 254.8,719.4 256.3,719.4 257.8,719.4 259.3,719.3 260.8,719.3 262.3,719.3 263.8,719.3 265.3,719.3 266.8,719.3 268.3,719.3 269.8,719.3 271.3,719.3 272.8,719.3 274.3,719.3 275.8,719.3 277.3,719.3 278.8,719.2 280.3,719.2 281.8,719.2 283.3,719.2 284.8,719.2 286.3,719.2 287.8,719.2 289.3,719.2 290.8,719.2 292.3,719.2 293.8,719.2 295.3,719.1 296.8,719.1 298.3,719.1 299.8,719.1 301.3,719.1 302.8,719.1 304.3,719.1 305.8,719.1 307.3,719.1 308.8,719.1 310.3,719.0 311.8,719.0 313.3,719.0 314.8,719.0 316.3,719.0 317.8,719.0 319.3,719.0 320.8,719.0 322.3,718.9 323.8,718.9 325.3,718.9 326.8,718.9 328.3,718.9 329.8,718.9 331.3,718.8 332.8,718.8 334.3,718.7 335.8,718.6 337.3,718.6 338.8,718.5 340.3,718.3 341.8,718.2 343.3,718.1 344.8,717.9 346.3,717.6 347.8,717.2 349.3,716.6 350.8,716.0 352.3,715.1 353.8,714.2 355.3,713.3 356.8,712.2 358.3,711.1 359.8,709.9 361.3,708.4 362.8,706.8 364.3,705.0 365.8,703.1 367.3,701.1 368.8,699.1 370.3,697.0 371.8,694.9 373.3,692.6 374.8,690.3 376.3,687.9 377.8,685.3 379.3,682.7 380.8,680.1 382.3,677.4 383.8,674.6 385.3,671.9 386.8,669.0 388.3,666.1 389.8,663.2 391.3,660.2 392.8,657.1 394.3,653.9 395.8,650.7 397.3,647.3 398.8,643.9 400.3,640.4 401.8,636.9 403.3,633.2 404.8,629.4 406.3,625.5 407.8,621.4 409.3,617.2 410.8,612.7 412.3,608.2 413.8,603.6 415.3,599.1 416.8,594.8 418.3,590.8 419.8,587.2 421.3,584.0 422.8,581.3 424.3,579.1 425.8,577.1 427.3,575.3 428.8,573.4 430.3,571.6 431.8,569.9 433.3,568.3 434.8,567.0 436.3,565.7 437.8,564.5 439.3,563.2 440.8,561.7 442.3,560.2 443.8,558.7 445.3,557.2 446.8,555.8 448.3,554.4 449.8,552.9 451.3,551.3 452.8,549.6 454.3,547.7 455.8,545.6 457.3,543.4 458.8,541.1 460.3,538.7 461.8,536.3 463.3,533.9 464.8,531.5 466.3,529.1 467.8,526.7 469.3,524.3 470.8,521.9 472.3,519.5 473.8,517.0 475.3,514.5 476.8,511.8 478.3,509.1 479.8,506.2 481.3,503.2 482.8,500.0 484.3,496.7 485.8,493.5 487.3,490.2 488.8,487.0 490.3,483.8 491.8,480.6 493.3,477.4 494.8,474.3 496.3,471.3 497.8,468.4 499.3,465.6 500.8,463.0 502.3,460.6 503.8,458.2 505.3,455.9 506.8,453.9 508.3,452.1 509.8,450.6 511.3,449.2 512.8,448.0 514.3,446.8 515.8,445.8 517.3,445.0 518.8,444.5 520.3,444.2 521.8,444.4 523.3,444.9 524.8,445.7 526.3,446.8 527.8,448.1 529.3,449.6 530.8,451.6 532.3,454.2 533.8,457.5 535.3,461.1 536.8,465.0 538.3,469.0 539.8,473.1 541.3,477.5 542.8,482.0 544.3,486.6 545.8,491.3 547.3,496.1 548.8,500.8 550.3,505.6 551.8,510.5 553.3,515.3 554.8,520.1 556.3,524.9 557.8,529.7 559.3,534.4 560.8,539.2 562.3,544.1 563.8,549.0 565.3,554.0 566.8,559.0 568.3,564.0 569.8,569.0 571.3,574.1 572.8,579.2 574.3,584.1 575.8,589.0 577.3,593.7 578.8,598.4 580.3,602.9 581.8,607.3 583.3,611.7 584.8,616.0 586.3,620.1 587.8,624.2 589.3,628.2 590.8,632.1 592.3,635.9 593.8,639.7 595.3,643.5 596.8,647.3 598.3,651.0 599.8,654.7 601.3,658.3 602.8,661.8 604.3,665.2 605.8,668.4 607.3,671.5 608.8,674.4 610.3,677.3 611.8,680.1 613.3,682.8 614.8,685.4 616.3,687.8 617.8,690.2 619.3,692.5 620.8,694.7 622.3,696.9 623.8,699.0 625.3,700.9 626.8,702.7 628.3,704.3 629.8,705.8 631.3,707.2 632.8,708.5 634.3,709.7 635.8,710.9 637.3,711.9 638.8,712.9 640.3,713.7 641.8,714.5 643.3,715.1 644.8,715.7 646.3,716.3 647.8,716.8 649.3,717.3 650.8,717.7 652.3,718.1 653.8,718.4 655.3,718.7 656.8,718.9 658.3,719.0 659.8,719.1 661.3,719.2 662.8,719.2 664.3,719.2 665.8,719.2 667.3,719.3 668.8,719.3 670.3,719.3 671.8,719.4 673.3,719.4 674.8,719.4 676.3,719.4 677.8,719.4 679.3,719.5 680.8,719.5 682.3,719.5 683.8,719.5 685.3,719.5 686.8,719.5 688.3,719.5 689.8,719.6 691.3,719.6 692.8,719.6 694.3,719.6 695.8,719.6 705.8,719.6L706.0,719.6L124.3,719.6Z" fill="#67A9D6" fill-opacity="0.55" stroke="none"/>
<path d="M124.3,719.6 167.8,719.6 169.3,719.6 170.8,719.6 172.3,719.6 173.8,719.6 175.3,719.6 176.8,719.6 178.3,719.6 179.8,719.6 181.3,719.6 182.8,719.6 184.3,719.6 185.8,719.6 187.3,719.6 188.8,719.6 190.3,719.6 191.8,719.5 193.3,719.5 194.8,719.5 196.3,719.5 197.8,719.5 199.3,719.5 200.8,719.5 202.3,719.5 203.8,719.5 205.3,719.5 206.8,719.5 208.3,719.5 209.8,719.5 211.3,719.5 212.8,719.5 214.3,719.5 215.8,719.5 217.3,719.5 218.8,719.5 220.3,719.5 221.8,719.5 223.3,719.5 224.8,719.5 226.3,719.5 227.8,719.5 229.3,719.5 230.8,719.5 232.3,719.5 233.8,719.4 235.3,719.4 236.8,719.4 238.3,719.4 239.8,719.4 241.3,719.4 242.8,719.4 244.3,719.4 245.8,719.4 247.3,719.4 248.8,719.4 250.3,719.4 251.8,719.4 253.3,719.4 254.8,719.4 256.3,719.4 257.8,719.4 259.3,719.3 260.8,719.3 262.3,719.3 263.8,719.3 265.3,719.3 266.8,719.3 268.3,719.3 269.8,719.3 271.3,719.3 272.8,719.3 274.3,719.3 275.8,719.3 277.3,719.3 278.8,719.2 280.3,719.2 281.8,719.2 283.3,719.2 284.8,719.2 286.3,719.2 287.8,719.2 289.3,719.2 290.8,719.2 292.3,719.2 293.8,719.2 295.3,719.1 296.8,719.1 298.3,719.1 299.8,719.1 301.3,719.1 302.8,719.1 304.3,719.1 305.8,719.1 307.3,719.1 308.8,719.1 310.3,719.0 311.8,719.0 313.3,719.0 314.8,719.0 316.3,719.0 317.8,719.0 319.3,719.0 320.8,719.0 322.3,718.9 323.8,718.9 325.3,718.9 326.8,718.9 328.3,718.9 329.8,718.9 331.3,718.8 332.8,718.8 334.3,718.7 335.8,718.6 337.3,718.6 338.8,718.5 340.3,718.3 341.8,718.2 343.3,718.1 344.8,717.9 346.3,717.6 347.8,717.2 349.3,716.6 350.8,716.0 352.3,715.1 353.8,714.2 355.3,713.3 356.8,712.2 358.3,711.1 359.8,709.9 361.3,708.4 362.8,706.8 364.3,705.0 365.8,703.1 367.3,701.1 368.8,699.1 370.3,697.0 371.8,694.9 373.3,692.6 374.8,690.3 376.3,687.9 377.8,685.3 379.3,682.7 380.8,680.1 382.3,677.4 383.8,674.6 385.3,671.9 386.8,669.0 388.3,666.1 389.8,663.2 391.3,660.2 392.8,657.1 394.3,653.9 395.8,650.7 397.3,647.3 398.8,643.9 400.3,640.4 401.8,636.9 403.3,633.2 404.8,629.4 406.3,625.5 407.8,621.4 409.3,617.2 410.8,612.7 412.3,608.2 413.8,603.6 415.3,599.1 416.8,594.8 418.3,590.8 419.8,587.2 421.3,584.0 422.8,581.3 424.3,579.1 425.8,577.1 427.3,575.3 428.8,573.4 430.3,571.6 431.8,569.9 433.3,568.3 434.8,567.0 436.3,565.7 437.8,564.5 439.3,563.2 440.8,561.7 442.3,560.2 443.8,558.7 445.3,557.2 446.8,555.8 448.3,554.4 449.8,552.9 451.3,551.3 452.8,549.6 454.3,547.7 455.8,545.6 457.3,543.4 458.8,541.1 460.3,538.7 461.8,536.3 463.3,533.9 464.8,531.5 466.3,529.1 467.8,526.7 469.3,524.3 470.8,521.9 472.3,519.5 473.8,517.0 475.3,514.5 476.8,511.8 478.3,509.1 479.8,506.2 481.3,503.2 482.8,500.0 484.3,496.7 485.8,493.5 487.3,490.2 488.8,487.0 490.3,483.8 491.8,480.6 493.3,477.4 494.8,474.3 496.3,471.3 497.8,468.4 499.3,465.6 500.8,463.0 502.3,460.6 503.8,458.2 505.3,455.9 506.8,453.9 508.3,452.1 509.8,450.6 511.3,449.2 512.8,448.0 514.3,446.8 515.8,445.8 517.3,445.0 518.8,444.5 520.3,444.2 521.8,444.4 523.3,444.9 524.8,445.7 526.3,446.8 527.8,448.1 529.3,449.6 530.8,451.6 532.3,454.2 533.8,457.5 535.3,461.1 536.8,465.0 538.3,469.0 539.8,473.1 541.3,477.5 542.8,482.0 544.3,486.6 545.8,491.3 547.3,496.1 548.8,500.8 550.3,505.6 551.8,510.5 553.3,515.3 554.8,520.1 556.3,524.9 557.8,529.7 559.3,534.4 560.8,539.2 562.3,544.1 563.8,549.0 565.3,554.0 566.8,559.0 568.3,564.0 569.8,569.0 571.3,574.1 572.8,579.2 574.3,584.1 575.8,589.0 577.3,593.7 578.8,598.4 580.3,602.9 581.8,607.3 583.3,611.7 584.8,616.0 586.3,620.1 587.8,624.2 589.3,628.2 590.8,632.1 592.3,635.9 593.8,639.7 595.3,643.5 596.8,647.3 598.3,651.0 599.8,654.7 601.3,658.3 602.8,661.8 604.3,665.2 605.8,668.4 607.3,671.5 608.8,674.4 610.3,677.3 611.8,680.1 613.3,682.8 614.8,685.4 616.3,687.8 617.8,690.2 619.3,692.5 620.8,694.7 622.3,696.9 623.8,699.0 625.3,700.9 626.8,702.7 628.3,704.3 629.8,705.8 631.3,707.2 632.8,708.5 634.3,709.7 635.8,710.9 637.3,711.9 638.8,712.9 640.3,713.7 641.8,714.5 643.3,715.1 644.8,715.7 646.3,716.3 647.8,716.8 649.3,717.3 650.8,717.7 652.3,718.1 653.8,718.4 655.3,718.7 656.8,718.9 658.3,719.0 659.8,719.1 661.3,719.2 662.8,719.2 664.3,719.2 665.8,719.2 667.3,719.3 668.8,719.3 670.3,719.3 671.8,719.4 673.3,719.4 674.8,719.4 676.3,719.4 677.8,719.4 679.3,719.5 680.8,719.5 682.3,719.5 683.8,719.5 685.3,719.5 686.8,719.5 688.3,719.5 689.8,719.6 691.3,719.6 692.8,719.6 694.3,719.6 695.8,719.6 705.8,719.6" fill="none" stroke="#67A9D6" stroke-width="3.35" stroke-linejoin="round" stroke-linecap="round"/>
<line x1="437.1" y1="733.6" x2="437.1" y2="430.0" stroke="#000" stroke-width="3.35" stroke-dasharray="12.8 12.8"/>
<line x1="490.3" y1="733.6" x2="490.3" y2="430.0" stroke="#000" stroke-width="3.35" stroke-dasharray="3.2 9.6"/>
<line x1="86.4" y1="719.6" x2="95.4" y2="719.6" stroke="#333" stroke-width="3.35"/>
<text transform="translate(79.10,730.35) scale(1,1.045)" text-anchor="end" class="tk">0</text>
<line x1="86.4" y1="632.0" x2="95.4" y2="632.0" stroke="#333" stroke-width="3.35"/>
<text transform="translate(79.10,642.70) scale(1,1.045)" text-anchor="end" class="tk">10</text>
<line x1="86.4" y1="544.3" x2="95.4" y2="544.3" stroke="#333" stroke-width="3.35"/>
<text transform="translate(79.10,555.05) scale(1,1.045)" text-anchor="end" class="tk">20</text>
<line x1="86.4" y1="456.6" x2="95.4" y2="456.6" stroke="#333" stroke-width="3.35"/>
<text transform="translate(79.10,467.40) scale(1,1.045)" text-anchor="end" class="tk">30</text>
<line x1="169.0" y1="733.6" x2="169.0" y2="742.6" stroke="#333" stroke-width="3.35"/>
<text transform="translate(169.00,772.00) scale(1,1.045)" text-anchor="middle" class="tk">−0.58</text>
<line x1="303.3" y1="733.6" x2="303.3" y2="742.6" stroke="#333" stroke-width="3.35"/>
<text transform="translate(303.30,772.00) scale(1,1.045)" text-anchor="middle" class="tk">−0.55</text>
<line x1="437.5" y1="733.6" x2="437.5" y2="742.6" stroke="#333" stroke-width="3.35"/>
<text transform="translate(437.50,772.00) scale(1,1.045)" text-anchor="middle" class="tk">−0.52</text>
<line x1="571.8" y1="733.6" x2="571.8" y2="742.6" stroke="#333" stroke-width="3.35"/>
<text transform="translate(571.80,772.00) scale(1,1.045)" text-anchor="middle" class="tk">−0.49</text>
<line x1="95.4" y1="430.0" x2="95.4" y2="733.6" stroke="#000" stroke-width="3.35"/>
<line x1="95.4" y1="733.6" x2="735.2" y2="733.6" stroke="#000" stroke-width="3.35"/>
<text transform="translate(30.00,581.80) rotate(-90) scale(1,1.045)" text-anchor="middle" class="ty">Density</text>
</g>
<g>
<path d="M889.4,707.8 955.4,707.8 956.9,707.8 958.4,707.8 959.9,707.8 961.4,707.8 962.9,707.8 964.4,707.8 965.9,707.8 967.4,707.8 968.9,707.8 970.4,707.8 971.9,707.8 973.4,707.8 974.9,707.8 976.4,707.8 977.9,707.8 979.4,707.8 980.9,707.8 982.4,707.8 983.9,707.8 985.4,707.8 986.9,707.8 988.4,707.7 989.9,707.7 991.4,707.7 992.9,707.7 994.4,707.7 995.9,707.7 997.4,707.7 998.9,707.7 1000.4,707.7 1001.9,707.7 1003.4,707.7 1004.9,707.7 1006.4,707.7 1007.9,707.7 1009.4,707.7 1010.9,707.7 1012.4,707.7 1013.9,707.7 1015.4,707.7 1016.9,707.7 1018.4,707.7 1019.9,707.7 1021.4,707.7 1022.9,707.7 1024.4,707.7 1025.9,707.7 1027.4,707.7 1028.9,707.7 1030.4,707.7 1031.9,707.7 1033.4,707.7 1034.9,707.7 1036.4,707.7 1037.9,707.7 1039.4,707.7 1040.9,707.7 1042.4,707.6 1043.9,707.6 1045.4,707.6 1046.9,707.6 1048.4,707.6 1049.9,707.6 1051.4,707.6 1052.9,707.6 1054.4,707.6 1055.9,707.6 1057.4,707.6 1058.9,707.6 1060.4,707.6 1061.9,707.6 1063.4,707.5 1064.9,707.5 1066.4,707.4 1067.9,707.4 1069.4,707.3 1070.9,707.2 1072.4,707.1 1073.9,707.0 1075.4,706.9 1076.9,706.7 1078.4,706.6 1079.9,706.5 1081.4,706.4 1082.9,706.2 1084.4,706.1 1085.9,706.0 1087.4,705.8 1088.9,705.7 1090.4,705.5 1091.9,705.3 1093.4,705.1 1094.9,704.9 1096.4,704.8 1097.9,704.6 1099.4,704.4 1100.9,704.3 1102.4,704.1 1103.9,703.9 1105.4,703.6 1106.9,703.3 1108.4,702.8 1109.9,702.3 1111.4,701.6 1112.9,700.9 1114.4,700.2 1115.9,699.3 1117.4,698.5 1118.9,697.6 1120.4,696.6 1121.9,695.5 1123.4,694.4 1124.9,693.3 1126.4,692.2 1127.9,691.0 1129.4,689.8 1130.9,688.6 1132.4,687.4 1133.9,686.1 1135.4,684.9 1136.9,683.6 1138.4,682.4 1139.9,681.1 1141.4,679.9 1142.9,678.6 1144.4,677.3 1145.9,675.9 1147.4,674.5 1148.9,673.0 1150.4,671.5 1151.9,669.9 1153.4,668.3 1154.9,666.7 1156.4,664.9 1157.9,663.1 1159.4,661.2 1160.9,659.2 1162.4,657.2 1163.9,655.0 1165.4,652.7 1166.9,650.2 1168.4,647.7 1169.9,645.0 1171.4,642.1 1172.9,639.1 1174.4,635.9 1175.9,632.6 1177.4,629.1 1178.9,625.5 1180.4,621.8 1181.9,618.1 1183.4,614.4 1184.9,610.7 1186.4,606.9 1187.9,602.8 1189.4,598.3 1190.9,593.4 1192.4,588.2 1193.9,582.7 1195.4,576.9 1196.9,571.2 1198.4,565.6 1199.9,560.2 1201.4,554.8 1202.9,549.6 1204.4,544.7 1205.9,540.0 1207.4,535.5 1208.9,531.2 1210.4,527.1 1211.9,523.2 1213.4,519.3 1214.9,515.4 1216.4,511.7 1217.9,508.0 1219.4,504.5 1220.9,501.2 1222.4,498.2 1223.9,495.4 1225.4,492.8 1226.9,490.3 1228.4,488.0 1229.9,485.8 1231.4,483.9 1232.9,482.3 1234.4,480.9 1235.9,479.7 1237.4,478.6 1238.9,477.6 1240.4,476.7 1241.9,476.0 1243.4,475.5 1244.9,475.1 1246.4,475.0 1247.9,474.9 1249.4,474.8 1250.9,474.8 1252.4,474.7 1253.9,474.7 1255.4,474.8 1256.9,474.9 1258.4,475.1 1259.9,475.5 1261.4,475.9 1262.9,476.4 1264.4,477.1 1265.9,478.1 1267.4,479.3 1268.9,480.7 1270.4,482.3 1271.9,484.1 1273.4,486.2 1274.9,488.5 1276.4,491.1 1277.9,493.7 1279.4,496.5 1280.9,499.3 1282.4,502.2 1283.9,505.3 1285.4,508.3 1286.9,511.3 1288.4,514.3 1289.9,517.1 1291.4,520.0 1292.9,522.8 1294.4,525.5 1295.9,528.2 1297.4,530.9 1298.9,533.5 1300.4,536.0 1301.9,538.5 1303.4,541.0 1304.9,543.4 1306.4,545.8 1307.9,548.1 1309.4,550.4 1310.9,552.7 1312.4,554.9 1313.9,557.1 1315.4,559.1 1316.9,561.1 1318.4,563.0 1319.9,564.8 1321.4,566.7 1322.9,568.6 1324.4,570.6 1325.9,572.8 1327.4,575.1 1328.9,577.4 1330.4,579.9 1331.9,582.5 1333.4,585.1 1334.9,587.9 1336.4,590.8 1337.9,593.9 1339.4,597.1 1340.9,600.5 1342.4,603.9 1343.9,607.4 1345.4,611.1 1346.9,614.8 1348.4,618.7 1349.9,622.6 1351.4,626.6 1352.9,630.6 1354.4,634.5 1355.9,638.5 1357.4,642.5 1358.9,646.5 1360.4,650.4 1361.9,654.2 1363.4,657.9 1364.9,661.5 1366.4,665.0 1367.9,668.4 1369.4,671.7 1370.9,674.8 1372.4,677.7 1373.9,680.4 1375.4,683.0 1376.9,685.6 1378.4,688.0 1379.9,690.2 1381.4,692.2 1382.9,694.0 1384.4,695.6 1385.9,697.0 1387.4,698.4 1388.9,699.7 1390.4,700.8 1391.9,701.9 1393.4,702.9 1394.9,703.8 1396.4,704.5 1397.9,705.1 1399.4,705.6 1400.9,705.9 1402.4,706.3 1403.9,706.6 1405.4,706.9 1406.9,707.2 1408.4,707.4 1409.9,707.6 1411.4,707.7 1412.9,707.8 1414.4,707.8 1470.7,707.8L1470.7,707.8L889.4,707.8Z" fill="#D55E00" fill-opacity="0.55" stroke="none"/>
<path d="M889.4,707.8 955.4,707.8 956.9,707.8 958.4,707.8 959.9,707.8 961.4,707.8 962.9,707.8 964.4,707.8 965.9,707.8 967.4,707.8 968.9,707.8 970.4,707.8 971.9,707.8 973.4,707.8 974.9,707.8 976.4,707.8 977.9,707.8 979.4,707.8 980.9,707.8 982.4,707.8 983.9,707.8 985.4,707.8 986.9,707.8 988.4,707.7 989.9,707.7 991.4,707.7 992.9,707.7 994.4,707.7 995.9,707.7 997.4,707.7 998.9,707.7 1000.4,707.7 1001.9,707.7 1003.4,707.7 1004.9,707.7 1006.4,707.7 1007.9,707.7 1009.4,707.7 1010.9,707.7 1012.4,707.7 1013.9,707.7 1015.4,707.7 1016.9,707.7 1018.4,707.7 1019.9,707.7 1021.4,707.7 1022.9,707.7 1024.4,707.7 1025.9,707.7 1027.4,707.7 1028.9,707.7 1030.4,707.7 1031.9,707.7 1033.4,707.7 1034.9,707.7 1036.4,707.7 1037.9,707.7 1039.4,707.7 1040.9,707.7 1042.4,707.6 1043.9,707.6 1045.4,707.6 1046.9,707.6 1048.4,707.6 1049.9,707.6 1051.4,707.6 1052.9,707.6 1054.4,707.6 1055.9,707.6 1057.4,707.6 1058.9,707.6 1060.4,707.6 1061.9,707.6 1063.4,707.5 1064.9,707.5 1066.4,707.4 1067.9,707.4 1069.4,707.3 1070.9,707.2 1072.4,707.1 1073.9,707.0 1075.4,706.9 1076.9,706.7 1078.4,706.6 1079.9,706.5 1081.4,706.4 1082.9,706.2 1084.4,706.1 1085.9,706.0 1087.4,705.8 1088.9,705.7 1090.4,705.5 1091.9,705.3 1093.4,705.1 1094.9,704.9 1096.4,704.8 1097.9,704.6 1099.4,704.4 1100.9,704.3 1102.4,704.1 1103.9,703.9 1105.4,703.6 1106.9,703.3 1108.4,702.8 1109.9,702.3 1111.4,701.6 1112.9,700.9 1114.4,700.2 1115.9,699.3 1117.4,698.5 1118.9,697.6 1120.4,696.6 1121.9,695.5 1123.4,694.4 1124.9,693.3 1126.4,692.2 1127.9,691.0 1129.4,689.8 1130.9,688.6 1132.4,687.4 1133.9,686.1 1135.4,684.9 1136.9,683.6 1138.4,682.4 1139.9,681.1 1141.4,679.9 1142.9,678.6 1144.4,677.3 1145.9,675.9 1147.4,674.5 1148.9,673.0 1150.4,671.5 1151.9,669.9 1153.4,668.3 1154.9,666.7 1156.4,664.9 1157.9,663.1 1159.4,661.2 1160.9,659.2 1162.4,657.2 1163.9,655.0 1165.4,652.7 1166.9,650.2 1168.4,647.7 1169.9,645.0 1171.4,642.1 1172.9,639.1 1174.4,635.9 1175.9,632.6 1177.4,629.1 1178.9,625.5 1180.4,621.8 1181.9,618.1 1183.4,614.4 1184.9,610.7 1186.4,606.9 1187.9,602.8 1189.4,598.3 1190.9,593.4 1192.4,588.2 1193.9,582.7 1195.4,576.9 1196.9,571.2 1198.4,565.6 1199.9,560.2 1201.4,554.8 1202.9,549.6 1204.4,544.7 1205.9,540.0 1207.4,535.5 1208.9,531.2 1210.4,527.1 1211.9,523.2 1213.4,519.3 1214.9,515.4 1216.4,511.7 1217.9,508.0 1219.4,504.5 1220.9,501.2 1222.4,498.2 1223.9,495.4 1225.4,492.8 1226.9,490.3 1228.4,488.0 1229.9,485.8 1231.4,483.9 1232.9,482.3 1234.4,480.9 1235.9,479.7 1237.4,478.6 1238.9,477.6 1240.4,476.7 1241.9,476.0 1243.4,475.5 1244.9,475.1 1246.4,475.0 1247.9,474.9 1249.4,474.8 1250.9,474.8 1252.4,474.7 1253.9,474.7 1255.4,474.8 1256.9,474.9 1258.4,475.1 1259.9,475.5 1261.4,475.9 1262.9,476.4 1264.4,477.1 1265.9,478.1 1267.4,479.3 1268.9,480.7 1270.4,482.3 1271.9,484.1 1273.4,486.2 1274.9,488.5 1276.4,491.1 1277.9,493.7 1279.4,496.5 1280.9,499.3 1282.4,502.2 1283.9,505.3 1285.4,508.3 1286.9,511.3 1288.4,514.3 1289.9,517.1 1291.4,520.0 1292.9,522.8 1294.4,525.5 1295.9,528.2 1297.4,530.9 1298.9,533.5 1300.4,536.0 1301.9,538.5 1303.4,541.0 1304.9,543.4 1306.4,545.8 1307.9,548.1 1309.4,550.4 1310.9,552.7 1312.4,554.9 1313.9,557.1 1315.4,559.1 1316.9,561.1 1318.4,563.0 1319.9,564.8 1321.4,566.7 1322.9,568.6 1324.4,570.6 1325.9,572.8 1327.4,575.1 1328.9,577.4 1330.4,579.9 1331.9,582.5 1333.4,585.1 1334.9,587.9 1336.4,590.8 1337.9,593.9 1339.4,597.1 1340.9,600.5 1342.4,603.9 1343.9,607.4 1345.4,611.1 1346.9,614.8 1348.4,618.7 1349.9,622.6 1351.4,626.6 1352.9,630.6 1354.4,634.5 1355.9,638.5 1357.4,642.5 1358.9,646.5 1360.4,650.4 1361.9,654.2 1363.4,657.9 1364.9,661.5 1366.4,665.0 1367.9,668.4 1369.4,671.7 1370.9,674.8 1372.4,677.7 1373.9,680.4 1375.4,683.0 1376.9,685.6 1378.4,688.0 1379.9,690.2 1381.4,692.2 1382.9,694.0 1384.4,695.6 1385.9,697.0 1387.4,698.4 1388.9,699.7 1390.4,700.8 1391.9,701.9 1393.4,702.9 1394.9,703.8 1396.4,704.5 1397.9,705.1 1399.4,705.6 1400.9,705.9 1402.4,706.3 1403.9,706.6 1405.4,706.9 1406.9,707.2 1408.4,707.4 1409.9,707.6 1411.4,707.7 1412.9,707.8 1414.4,707.8 1470.7,707.8" fill="none" stroke="#D55E00" stroke-width="3.35" stroke-linejoin="round" stroke-linecap="round"/>
<path d="M889.4,707.8 989.9,707.8 991.4,707.8 992.9,707.8 994.4,707.8 995.9,707.8 997.4,707.8 998.9,707.8 1000.4,707.8 1001.9,707.8 1003.4,707.8 1004.9,707.8 1006.4,707.8 1007.9,707.8 1009.4,707.8 1010.9,707.8 1012.4,707.8 1013.9,707.8 1015.4,707.8 1016.9,707.8 1018.4,707.8 1019.9,707.8 1021.4,707.8 1022.9,707.8 1024.4,707.8 1025.9,707.8 1027.4,707.8 1028.9,707.8 1030.4,707.8 1031.9,707.8 1033.4,707.7 1034.9,707.7 1036.4,707.7 1037.9,707.7 1039.4,707.7 1040.9,707.7 1042.4,707.7 1043.9,707.7 1045.4,707.7 1046.9,707.7 1048.4,707.7 1049.9,707.7 1051.4,707.7 1052.9,707.7 1054.4,707.7 1055.9,707.7 1057.4,707.7 1058.9,707.7 1060.4,707.7 1061.9,707.7 1063.4,707.7 1064.9,707.7 1066.4,707.7 1067.9,707.7 1069.4,707.7 1070.9,707.7 1072.4,707.7 1073.9,707.7 1075.4,707.7 1076.9,707.7 1078.4,707.7 1079.9,707.7 1081.4,707.7 1082.9,707.7 1084.4,707.7 1085.9,707.7 1087.4,707.7 1088.9,707.7 1090.4,707.7 1091.9,707.7 1093.4,707.7 1094.9,707.7 1096.4,707.7 1097.9,707.7 1099.4,707.7 1100.9,707.7 1102.4,707.7 1103.9,707.7 1105.4,707.7 1106.9,707.6 1108.4,707.6 1109.9,707.6 1111.4,707.6 1112.9,707.6 1114.4,707.6 1115.9,707.6 1117.4,707.6 1118.9,707.6 1120.4,707.6 1121.9,707.6 1123.4,707.6 1124.9,707.6 1126.4,707.6 1127.9,707.6 1129.4,707.6 1130.9,707.6 1132.4,707.5 1133.9,707.5 1135.4,707.4 1136.9,707.3 1138.4,707.1 1139.9,707.0 1141.4,706.8 1142.9,706.6 1144.4,706.4 1145.9,706.2 1147.4,705.9 1148.9,705.7 1150.4,705.4 1151.9,705.0 1153.4,704.6 1154.9,704.1 1156.4,703.5 1157.9,702.9 1159.4,702.2 1160.9,701.5 1162.4,700.8 1163.9,699.9 1165.4,699.0 1166.9,698.0 1168.4,697.0 1169.9,695.8 1171.4,694.7 1172.9,693.4 1174.4,692.2 1175.9,690.9 1177.4,689.6 1178.9,688.3 1180.4,686.8 1181.9,685.3 1183.4,683.7 1184.9,682.1 1186.4,680.2 1187.9,678.2 1189.4,675.9 1190.9,673.5 1192.4,671.0 1193.9,668.4 1195.4,665.8 1196.9,663.2 1198.4,660.7 1199.9,658.2 1201.4,655.6 1202.9,653.0 1204.4,650.3 1205.9,647.5 1207.4,644.6 1208.9,641.6 1210.4,638.6 1211.9,635.3 1213.4,632.0 1214.9,628.4 1216.4,624.7 1217.9,620.8 1219.4,616.7 1220.9,612.3 1222.4,607.6 1223.9,602.4 1225.4,596.3 1226.9,588.8 1228.4,580.3 1229.9,571.5 1231.4,563.0 1232.9,554.9 1234.4,547.1 1235.9,539.2 1237.4,531.3 1238.9,523.3 1240.4,515.5 1241.9,507.8 1243.4,500.1 1244.9,492.7 1246.4,485.6 1247.9,479.1 1249.4,473.2 1250.9,468.0 1252.4,463.3 1253.9,459.5 1255.4,456.4 1256.9,454.0 1258.4,451.9 1259.9,450.4 1261.4,449.6 1262.9,449.6 1264.4,450.5 1265.9,451.8 1267.4,453.6 1268.9,455.6 1270.4,457.9 1271.9,460.6 1273.4,463.7 1274.9,467.3 1276.4,471.4 1277.9,475.9 1279.4,480.7 1280.9,485.4 1282.4,489.9 1283.9,494.3 1285.4,498.5 1286.9,502.5 1288.4,506.1 1289.9,509.1 1291.4,511.7 1292.9,513.9 1294.4,515.8 1295.9,517.3 1297.4,518.1 1298.9,518.2 1300.4,517.5 1301.9,516.3 1303.4,514.7 1304.9,513.0 1306.4,511.2 1307.9,509.4 1309.4,507.4 1310.9,505.2 1312.4,503.0 1313.9,500.7 1315.4,498.2 1316.9,495.6 1318.4,493.0 1319.9,490.6 1321.4,488.6 1322.9,487.1 1324.4,485.8 1325.9,484.9 1327.4,484.1 1328.9,483.8 1330.4,484.0 1331.9,484.7 1333.4,485.8 1334.9,487.3 1336.4,489.0 1337.9,491.1 1339.4,493.6 1340.9,496.5 1342.4,499.8 1343.9,503.5 1345.4,507.7 1346.9,512.5 1348.4,517.8 1349.9,523.4 1351.4,529.2 1352.9,535.0 1354.4,540.7 1355.9,546.5 1357.4,552.8 1358.9,559.6 1360.4,567.0 1361.9,574.8 1363.4,582.6 1364.9,590.2 1366.4,597.3 1367.9,604.0 1369.4,610.4 1370.9,616.5 1372.4,622.3 1373.9,627.8 1375.4,633.1 1376.9,638.1 1378.4,642.7 1379.9,647.2 1381.4,651.3 1382.9,655.3 1384.4,659.1 1385.9,662.8 1387.4,666.3 1388.9,669.7 1390.4,673.0 1391.9,676.2 1393.4,679.2 1394.9,682.0 1396.4,684.6 1397.9,686.9 1399.4,689.1 1400.9,691.1 1402.4,693.0 1403.9,694.7 1405.4,696.3 1406.9,697.7 1408.4,698.9 1409.9,700.0 1411.4,701.0 1412.9,701.9 1414.4,702.7 1415.9,703.5 1417.4,704.1 1418.9,704.7 1420.4,705.2 1421.9,705.6 1423.4,705.9 1424.9,706.2 1426.4,706.5 1427.9,706.8 1429.4,707.0 1430.9,707.2 1432.4,707.4 1433.9,707.6 1435.4,707.7 1436.9,707.8 1438.4,707.8 1470.7,707.8L1470.7,707.8L889.4,707.8Z" fill="#E69F00" fill-opacity="0.55" stroke="none"/>
<path d="M889.4,707.8 989.9,707.8 991.4,707.8 992.9,707.8 994.4,707.8 995.9,707.8 997.4,707.8 998.9,707.8 1000.4,707.8 1001.9,707.8 1003.4,707.8 1004.9,707.8 1006.4,707.8 1007.9,707.8 1009.4,707.8 1010.9,707.8 1012.4,707.8 1013.9,707.8 1015.4,707.8 1016.9,707.8 1018.4,707.8 1019.9,707.8 1021.4,707.8 1022.9,707.8 1024.4,707.8 1025.9,707.8 1027.4,707.8 1028.9,707.8 1030.4,707.8 1031.9,707.8 1033.4,707.7 1034.9,707.7 1036.4,707.7 1037.9,707.7 1039.4,707.7 1040.9,707.7 1042.4,707.7 1043.9,707.7 1045.4,707.7 1046.9,707.7 1048.4,707.7 1049.9,707.7 1051.4,707.7 1052.9,707.7 1054.4,707.7 1055.9,707.7 1057.4,707.7 1058.9,707.7 1060.4,707.7 1061.9,707.7 1063.4,707.7 1064.9,707.7 1066.4,707.7 1067.9,707.7 1069.4,707.7 1070.9,707.7 1072.4,707.7 1073.9,707.7 1075.4,707.7 1076.9,707.7 1078.4,707.7 1079.9,707.7 1081.4,707.7 1082.9,707.7 1084.4,707.7 1085.9,707.7 1087.4,707.7 1088.9,707.7 1090.4,707.7 1091.9,707.7 1093.4,707.7 1094.9,707.7 1096.4,707.7 1097.9,707.7 1099.4,707.7 1100.9,707.7 1102.4,707.7 1103.9,707.7 1105.4,707.7 1106.9,707.6 1108.4,707.6 1109.9,707.6 1111.4,707.6 1112.9,707.6 1114.4,707.6 1115.9,707.6 1117.4,707.6 1118.9,707.6 1120.4,707.6 1121.9,707.6 1123.4,707.6 1124.9,707.6 1126.4,707.6 1127.9,707.6 1129.4,707.6 1130.9,707.6 1132.4,707.5 1133.9,707.5 1135.4,707.4 1136.9,707.3 1138.4,707.1 1139.9,707.0 1141.4,706.8 1142.9,706.6 1144.4,706.4 1145.9,706.2 1147.4,705.9 1148.9,705.7 1150.4,705.4 1151.9,705.0 1153.4,704.6 1154.9,704.1 1156.4,703.5 1157.9,702.9 1159.4,702.2 1160.9,701.5 1162.4,700.8 1163.9,699.9 1165.4,699.0 1166.9,698.0 1168.4,697.0 1169.9,695.8 1171.4,694.7 1172.9,693.4 1174.4,692.2 1175.9,690.9 1177.4,689.6 1178.9,688.3 1180.4,686.8 1181.9,685.3 1183.4,683.7 1184.9,682.1 1186.4,680.2 1187.9,678.2 1189.4,675.9 1190.9,673.5 1192.4,671.0 1193.9,668.4 1195.4,665.8 1196.9,663.2 1198.4,660.7 1199.9,658.2 1201.4,655.6 1202.9,653.0 1204.4,650.3 1205.9,647.5 1207.4,644.6 1208.9,641.6 1210.4,638.6 1211.9,635.3 1213.4,632.0 1214.9,628.4 1216.4,624.7 1217.9,620.8 1219.4,616.7 1220.9,612.3 1222.4,607.6 1223.9,602.4 1225.4,596.3 1226.9,588.8 1228.4,580.3 1229.9,571.5 1231.4,563.0 1232.9,554.9 1234.4,547.1 1235.9,539.2 1237.4,531.3 1238.9,523.3 1240.4,515.5 1241.9,507.8 1243.4,500.1 1244.9,492.7 1246.4,485.6 1247.9,479.1 1249.4,473.2 1250.9,468.0 1252.4,463.3 1253.9,459.5 1255.4,456.4 1256.9,454.0 1258.4,451.9 1259.9,450.4 1261.4,449.6 1262.9,449.6 1264.4,450.5 1265.9,451.8 1267.4,453.6 1268.9,455.6 1270.4,457.9 1271.9,460.6 1273.4,463.7 1274.9,467.3 1276.4,471.4 1277.9,475.9 1279.4,480.7 1280.9,485.4 1282.4,489.9 1283.9,494.3 1285.4,498.5 1286.9,502.5 1288.4,506.1 1289.9,509.1 1291.4,511.7 1292.9,513.9 1294.4,515.8 1295.9,517.3 1297.4,518.1 1298.9,518.2 1300.4,517.5 1301.9,516.3 1303.4,514.7 1304.9,513.0 1306.4,511.2 1307.9,509.4 1309.4,507.4 1310.9,505.2 1312.4,503.0 1313.9,500.7 1315.4,498.2 1316.9,495.6 1318.4,493.0 1319.9,490.6 1321.4,488.6 1322.9,487.1 1324.4,485.8 1325.9,484.9 1327.4,484.1 1328.9,483.8 1330.4,484.0 1331.9,484.7 1333.4,485.8 1334.9,487.3 1336.4,489.0 1337.9,491.1 1339.4,493.6 1340.9,496.5 1342.4,499.8 1343.9,503.5 1345.4,507.7 1346.9,512.5 1348.4,517.8 1349.9,523.4 1351.4,529.2 1352.9,535.0 1354.4,540.7 1355.9,546.5 1357.4,552.8 1358.9,559.6 1360.4,567.0 1361.9,574.8 1363.4,582.6 1364.9,590.2 1366.4,597.3 1367.9,604.0 1369.4,610.4 1370.9,616.5 1372.4,622.3 1373.9,627.8 1375.4,633.1 1376.9,638.1 1378.4,642.7 1379.9,647.2 1381.4,651.3 1382.9,655.3 1384.4,659.1 1385.9,662.8 1387.4,666.3 1388.9,669.7 1390.4,673.0 1391.9,676.2 1393.4,679.2 1394.9,682.0 1396.4,684.6 1397.9,686.9 1399.4,689.1 1400.9,691.1 1402.4,693.0 1403.9,694.7 1405.4,696.3 1406.9,697.7 1408.4,698.9 1409.9,700.0 1411.4,701.0 1412.9,701.9 1414.4,702.7 1415.9,703.5 1417.4,704.1 1418.9,704.7 1420.4,705.2 1421.9,705.6 1423.4,705.9 1424.9,706.2 1426.4,706.5 1427.9,706.8 1429.4,707.0 1430.9,707.2 1432.4,707.4 1433.9,707.6 1435.4,707.7 1436.9,707.8 1438.4,707.8 1470.7,707.8" fill="none" stroke="#E69F00" stroke-width="3.35" stroke-linejoin="round" stroke-linecap="round"/>
<path d="M889.4,707.8 1019.9,707.8 1021.4,707.8 1022.9,707.8 1024.4,707.8 1025.9,707.8 1027.4,707.8 1028.9,707.8 1030.4,707.8 1031.9,707.8 1033.4,707.8 1034.9,707.8 1036.4,707.8 1037.9,707.8 1039.4,707.8 1040.9,707.8 1042.4,707.8 1043.9,707.8 1045.4,707.8 1046.9,707.8 1048.4,707.8 1049.9,707.8 1051.4,707.8 1052.9,707.8 1054.4,707.8 1055.9,707.8 1057.4,707.8 1058.9,707.8 1060.4,707.8 1061.9,707.8 1063.4,707.8 1064.9,707.8 1066.4,707.8 1067.9,707.8 1069.4,707.8 1070.9,707.8 1072.4,707.8 1073.9,707.8 1075.4,707.8 1076.9,707.7 1078.4,707.7 1079.9,707.7 1081.4,707.7 1082.9,707.7 1084.4,707.7 1085.9,707.7 1087.4,707.7 1088.9,707.7 1090.4,707.7 1091.9,707.7 1093.4,707.7 1094.9,707.7 1096.4,707.7 1097.9,707.7 1099.4,707.7 1100.9,707.7 1102.4,707.7 1103.9,707.7 1105.4,707.7 1106.9,707.7 1108.4,707.7 1109.9,707.7 1111.4,707.7 1112.9,707.7 1114.4,707.7 1115.9,707.7 1117.4,707.7 1118.9,707.7 1120.4,707.7 1121.9,707.7 1123.4,707.7 1124.9,707.7 1126.4,707.7 1127.9,707.7 1129.4,707.7 1130.9,707.7 1132.4,707.7 1133.9,707.7 1135.4,707.6 1136.9,707.6 1138.4,707.5 1139.9,707.5 1141.4,707.4 1142.9,707.3 1144.4,707.3 1145.9,707.2 1147.4,707.1 1148.9,707.0 1150.4,706.8 1151.9,706.6 1153.4,706.3 1154.9,705.9 1156.4,705.5 1157.9,704.9 1159.4,704.4 1160.9,703.8 1162.4,703.2 1163.9,702.5 1165.4,701.7 1166.9,700.9 1168.4,700.0 1169.9,699.0 1171.4,698.0 1172.9,697.0 1174.4,695.9 1175.9,694.9 1177.4,693.8 1178.9,692.7 1180.4,691.5 1181.9,690.3 1183.4,689.1 1184.9,687.7 1186.4,686.3 1187.9,684.8 1189.4,683.2 1190.9,681.6 1192.4,679.8 1193.9,677.9 1195.4,676.0 1196.9,674.0 1198.4,671.9 1199.9,669.8 1201.4,667.5 1202.9,665.2 1204.4,662.8 1205.9,660.3 1207.4,657.8 1208.9,655.2 1210.4,652.5 1211.9,649.8 1213.4,646.9 1214.9,643.9 1216.4,640.8 1217.9,637.6 1219.4,634.1 1220.9,630.4 1222.4,626.4 1223.9,622.2 1225.4,617.9 1226.9,613.6 1228.4,609.1 1229.9,604.3 1231.4,599.3 1232.9,593.9 1234.4,588.3 1235.9,582.7 1237.4,577.0 1238.9,571.4 1240.4,565.9 1241.9,560.5 1243.4,555.2 1244.9,549.9 1246.4,544.6 1247.9,539.2 1249.4,533.9 1250.9,528.6 1252.4,523.2 1253.9,517.8 1255.4,512.3 1256.9,506.5 1258.4,500.2 1259.9,493.5 1261.4,486.5 1262.9,479.9 1264.4,474.1 1265.9,469.2 1267.4,465.1 1268.9,461.4 1270.4,458.1 1271.9,455.1 1273.4,452.4 1274.9,449.9 1276.4,447.8 1277.9,446.2 1279.4,444.8 1280.9,443.8 1282.4,443.3 1283.9,443.2 1285.4,443.5 1286.9,444.1 1288.4,444.8 1289.9,445.8 1291.4,447.0 1292.9,448.7 1294.4,450.7 1295.9,453.1 1297.4,455.7 1298.9,458.5 1300.4,461.7 1301.9,465.2 1303.4,469.0 1304.9,472.9 1306.4,476.9 1307.9,481.0 1309.4,485.2 1310.9,489.5 1312.4,493.7 1313.9,497.8 1315.4,501.7 1316.9,505.4 1318.4,509.0 1319.9,512.6 1321.4,516.0 1322.9,519.5 1324.4,522.9 1325.9,526.2 1327.4,529.5 1328.9,532.7 1330.4,535.9 1331.9,539.0 1333.4,542.0 1334.9,545.0 1336.4,548.0 1337.9,551.0 1339.4,554.0 1340.9,557.0 1342.4,559.9 1343.9,562.9 1345.4,566.0 1346.9,569.2 1348.4,572.6 1349.9,576.0 1351.4,579.5 1352.9,582.8 1354.4,585.7 1355.9,588.2 1357.4,590.3 1358.9,592.2 1360.4,594.0 1361.9,595.4 1363.4,596.6 1364.9,597.3 1366.4,597.8 1367.9,598.1 1369.4,598.3 1370.9,598.5 1372.4,598.7 1373.9,598.8 1375.4,599.0 1376.9,599.1 1378.4,599.3 1379.9,599.4 1381.4,599.5 1382.9,599.7 1384.4,600.1 1385.9,600.7 1387.4,601.6 1388.9,602.7 1390.4,604.1 1391.9,605.8 1393.4,607.8 1394.9,610.2 1396.4,612.9 1397.9,616.0 1399.4,619.3 1400.9,623.0 1402.4,627.1 1403.9,631.4 1405.4,635.7 1406.9,640.0 1408.4,644.2 1409.9,648.3 1411.4,652.5 1412.9,656.5 1414.4,660.5 1415.9,664.5 1417.4,668.3 1418.9,672.1 1420.4,675.7 1421.9,679.1 1423.4,682.5 1424.9,685.7 1426.4,688.7 1427.9,691.4 1429.4,693.8 1430.9,695.9 1432.4,697.9 1433.9,699.7 1435.4,701.3 1436.9,702.6 1438.4,703.6 1439.9,704.3 1441.4,705.0 1442.9,705.5 1444.4,706.0 1445.9,706.5 1447.4,706.8 1448.9,707.1 1450.4,707.3 1451.9,707.4 1453.4,707.5 1454.9,707.5 1456.4,707.6 1457.9,707.6 1459.4,707.7 1460.9,707.7 1462.4,707.7 1463.9,707.7 1465.4,707.8 1466.9,707.8 1470.7,707.8L1470.7,707.8L889.4,707.8Z" fill="#67A9D6" fill-opacity="0.55" stroke="none"/>
<path d="M889.4,707.8 1019.9,707.8 1021.4,707.8 1022.9,707.8 1024.4,707.8 1025.9,707.8 1027.4,707.8 1028.9,707.8 1030.4,707.8 1031.9,707.8 1033.4,707.8 1034.9,707.8 1036.4,707.8 1037.9,707.8 1039.4,707.8 1040.9,707.8 1042.4,707.8 1043.9,707.8 1045.4,707.8 1046.9,707.8 1048.4,707.8 1049.9,707.8 1051.4,707.8 1052.9,707.8 1054.4,707.8 1055.9,707.8 1057.4,707.8 1058.9,707.8 1060.4,707.8 1061.9,707.8 1063.4,707.8 1064.9,707.8 1066.4,707.8 1067.9,707.8 1069.4,707.8 1070.9,707.8 1072.4,707.8 1073.9,707.8 1075.4,707.8 1076.9,707.7 1078.4,707.7 1079.9,707.7 1081.4,707.7 1082.9,707.7 1084.4,707.7 1085.9,707.7 1087.4,707.7 1088.9,707.7 1090.4,707.7 1091.9,707.7 1093.4,707.7 1094.9,707.7 1096.4,707.7 1097.9,707.7 1099.4,707.7 1100.9,707.7 1102.4,707.7 1103.9,707.7 1105.4,707.7 1106.9,707.7 1108.4,707.7 1109.9,707.7 1111.4,707.7 1112.9,707.7 1114.4,707.7 1115.9,707.7 1117.4,707.7 1118.9,707.7 1120.4,707.7 1121.9,707.7 1123.4,707.7 1124.9,707.7 1126.4,707.7 1127.9,707.7 1129.4,707.7 1130.9,707.7 1132.4,707.7 1133.9,707.7 1135.4,707.6 1136.9,707.6 1138.4,707.5 1139.9,707.5 1141.4,707.4 1142.9,707.3 1144.4,707.3 1145.9,707.2 1147.4,707.1 1148.9,707.0 1150.4,706.8 1151.9,706.6 1153.4,706.3 1154.9,705.9 1156.4,705.5 1157.9,704.9 1159.4,704.4 1160.9,703.8 1162.4,703.2 1163.9,702.5 1165.4,701.7 1166.9,700.9 1168.4,700.0 1169.9,699.0 1171.4,698.0 1172.9,697.0 1174.4,695.9 1175.9,694.9 1177.4,693.8 1178.9,692.7 1180.4,691.5 1181.9,690.3 1183.4,689.1 1184.9,687.7 1186.4,686.3 1187.9,684.8 1189.4,683.2 1190.9,681.6 1192.4,679.8 1193.9,677.9 1195.4,676.0 1196.9,674.0 1198.4,671.9 1199.9,669.8 1201.4,667.5 1202.9,665.2 1204.4,662.8 1205.9,660.3 1207.4,657.8 1208.9,655.2 1210.4,652.5 1211.9,649.8 1213.4,646.9 1214.9,643.9 1216.4,640.8 1217.9,637.6 1219.4,634.1 1220.9,630.4 1222.4,626.4 1223.9,622.2 1225.4,617.9 1226.9,613.6 1228.4,609.1 1229.9,604.3 1231.4,599.3 1232.9,593.9 1234.4,588.3 1235.9,582.7 1237.4,577.0 1238.9,571.4 1240.4,565.9 1241.9,560.5 1243.4,555.2 1244.9,549.9 1246.4,544.6 1247.9,539.2 1249.4,533.9 1250.9,528.6 1252.4,523.2 1253.9,517.8 1255.4,512.3 1256.9,506.5 1258.4,500.2 1259.9,493.5 1261.4,486.5 1262.9,479.9 1264.4,474.1 1265.9,469.2 1267.4,465.1 1268.9,461.4 1270.4,458.1 1271.9,455.1 1273.4,452.4 1274.9,449.9 1276.4,447.8 1277.9,446.2 1279.4,444.8 1280.9,443.8 1282.4,443.3 1283.9,443.2 1285.4,443.5 1286.9,444.1 1288.4,444.8 1289.9,445.8 1291.4,447.0 1292.9,448.7 1294.4,450.7 1295.9,453.1 1297.4,455.7 1298.9,458.5 1300.4,461.7 1301.9,465.2 1303.4,469.0 1304.9,472.9 1306.4,476.9 1307.9,481.0 1309.4,485.2 1310.9,489.5 1312.4,493.7 1313.9,497.8 1315.4,501.7 1316.9,505.4 1318.4,509.0 1319.9,512.6 1321.4,516.0 1322.9,519.5 1324.4,522.9 1325.9,526.2 1327.4,529.5 1328.9,532.7 1330.4,535.9 1331.9,539.0 1333.4,542.0 1334.9,545.0 1336.4,548.0 1337.9,551.0 1339.4,554.0 1340.9,557.0 1342.4,559.9 1343.9,562.9 1345.4,566.0 1346.9,569.2 1348.4,572.6 1349.9,576.0 1351.4,579.5 1352.9,582.8 1354.4,585.7 1355.9,588.2 1357.4,590.3 1358.9,592.2 1360.4,594.0 1361.9,595.4 1363.4,596.6 1364.9,597.3 1366.4,597.8 1367.9,598.1 1369.4,598.3 1370.9,598.5 1372.4,598.7 1373.9,598.8 1375.4,599.0 1376.9,599.1 1378.4,599.3 1379.9,599.4 1381.4,599.5 1382.9,599.7 1384.4,600.1 1385.9,600.7 1387.4,601.6 1388.9,602.7 1390.4,604.1 1391.9,605.8 1393.4,607.8 1394.9,610.2 1396.4,612.9 1397.9,616.0 1399.4,619.3 1400.9,623.0 1402.4,627.1 1403.9,631.4 1405.4,635.7 1406.9,640.0 1408.4,644.2 1409.9,648.3 1411.4,652.5 1412.9,656.5 1414.4,660.5 1415.9,664.5 1417.4,668.3 1418.9,672.1 1420.4,675.7 1421.9,679.1 1423.4,682.5 1424.9,685.7 1426.4,688.7 1427.9,691.4 1429.4,693.8 1430.9,695.9 1432.4,697.9 1433.9,699.7 1435.4,701.3 1436.9,702.6 1438.4,703.6 1439.9,704.3 1441.4,705.0 1442.9,705.5 1444.4,706.0 1445.9,706.5 1447.4,706.8 1448.9,707.1 1450.4,707.3 1451.9,707.4 1453.4,707.5 1454.9,707.5 1456.4,707.6 1457.9,707.6 1459.4,707.7 1460.9,707.7 1462.4,707.7 1463.9,707.7 1465.4,707.8 1466.9,707.8 1470.7,707.8" fill="none" stroke="#67A9D6" stroke-width="3.35" stroke-linejoin="round" stroke-linecap="round"/>
<line x1="1264.0" y1="721.0" x2="1264.0" y2="430.0" stroke="#000" stroke-width="3.35" stroke-dasharray="12.8 12.8"/>
<line x1="1305.4" y1="721.0" x2="1305.4" y2="430.0" stroke="#000" stroke-width="3.35" stroke-dasharray="3.2 9.6"/>
<line x1="851.0" y1="707.8" x2="860.0" y2="707.8" stroke="#333" stroke-width="3.35"/>
<text transform="translate(843.70,718.55) scale(1,1.045)" text-anchor="end" class="tk">0</text>
<line x1="851.0" y1="616.1" x2="860.0" y2="616.1" stroke="#333" stroke-width="3.35"/>
<text transform="translate(843.70,626.88) scale(1,1.045)" text-anchor="end" class="tk">10</text>
<line x1="851.0" y1="524.5" x2="860.0" y2="524.5" stroke="#333" stroke-width="3.35"/>
<text transform="translate(843.70,535.21) scale(1,1.045)" text-anchor="end" class="tk">20</text>
<line x1="851.0" y1="432.8" x2="860.0" y2="432.8" stroke="#333" stroke-width="3.35"/>
<text transform="translate(843.70,443.54) scale(1,1.045)" text-anchor="end" class="tk">30</text>
<line x1="998.1" y1="721.0" x2="998.1" y2="730.0" stroke="#333" stroke-width="3.35"/>
<text transform="translate(998.10,759.40) scale(1,1.045)" text-anchor="middle" class="tk">0.35</text>
<line x1="1180.0" y1="721.0" x2="1180.0" y2="730.0" stroke="#333" stroke-width="3.35"/>
<text transform="translate(1180.00,759.40) scale(1,1.045)" text-anchor="middle" class="tk">0.40</text>
<line x1="1361.9" y1="721.0" x2="1361.9" y2="730.0" stroke="#333" stroke-width="3.35"/>
<text transform="translate(1361.90,759.40) scale(1,1.045)" text-anchor="middle" class="tk">0.45</text>
<line x1="860.0" y1="430.0" x2="860.0" y2="721.0" stroke="#000" stroke-width="3.35"/>
<line x1="860.0" y1="721.0" x2="1500.0" y2="721.0" stroke="#000" stroke-width="3.35"/>
<text transform="translate(794.60,575.50) rotate(-90) scale(1,1.045)" text-anchor="middle" class="ty">Density</text>
</g>
<text transform="translate(415.30,387.10) scale(1,1.045)" text-anchor="middle" class="tt">K</text>
<text transform="translate(415.30,811.00) scale(1,1.045)" text-anchor="middle" class="tt">K (After age correction)</text>
<text transform="translate(1180.00,380.00) scale(1,1.045)" text-anchor="middle" class="tt">log<tspan class="sub" dy="6">10</tspan><tspan dy="-6">T</tspan></text>
<text transform="translate(1180.00,803.10) scale(1,1.045)" text-anchor="middle" class="tt">log<tspan class="sub" dy="6">10</tspan><tspan dy="-6">T (After age correction)</tspan></text>
<text transform="translate(-0.80,24.00) scale(1,1.045)" class="tag">A</text>
<text transform="translate(765.00,24.00) scale(1,1.045)" class="tag">B</text>
<text transform="translate(0.00,448.00) scale(1,1.045)" class="tag">C</text>
<text transform="translate(765.00,448.00) scale(1,1.045)" class="tag">D</text>
<text transform="translate(500.00,890.00) scale(1,1.045)" class="lt">Diagnostic</text>
<rect x="654.4" y="854" width="51.2" height="51.2" fill="#D55E00"/>
<text transform="translate(719.60,887.70) scale(1,1.045)" class="ll">AD</text>
<rect x="769.3" y="854" width="51.2" height="51.2" fill="#E69F00"/>
<text transform="translate(836.10,887.70) scale(1,1.045)" class="ll">MCI</text>
<rect x="895.0" y="854" width="51.2" height="51.2" fill="#67A9D6"/>
<text transform="translate(960.90,887.70) scale(1,1.045)" class="ll">CTL</text>
</svg>
</body></html>
